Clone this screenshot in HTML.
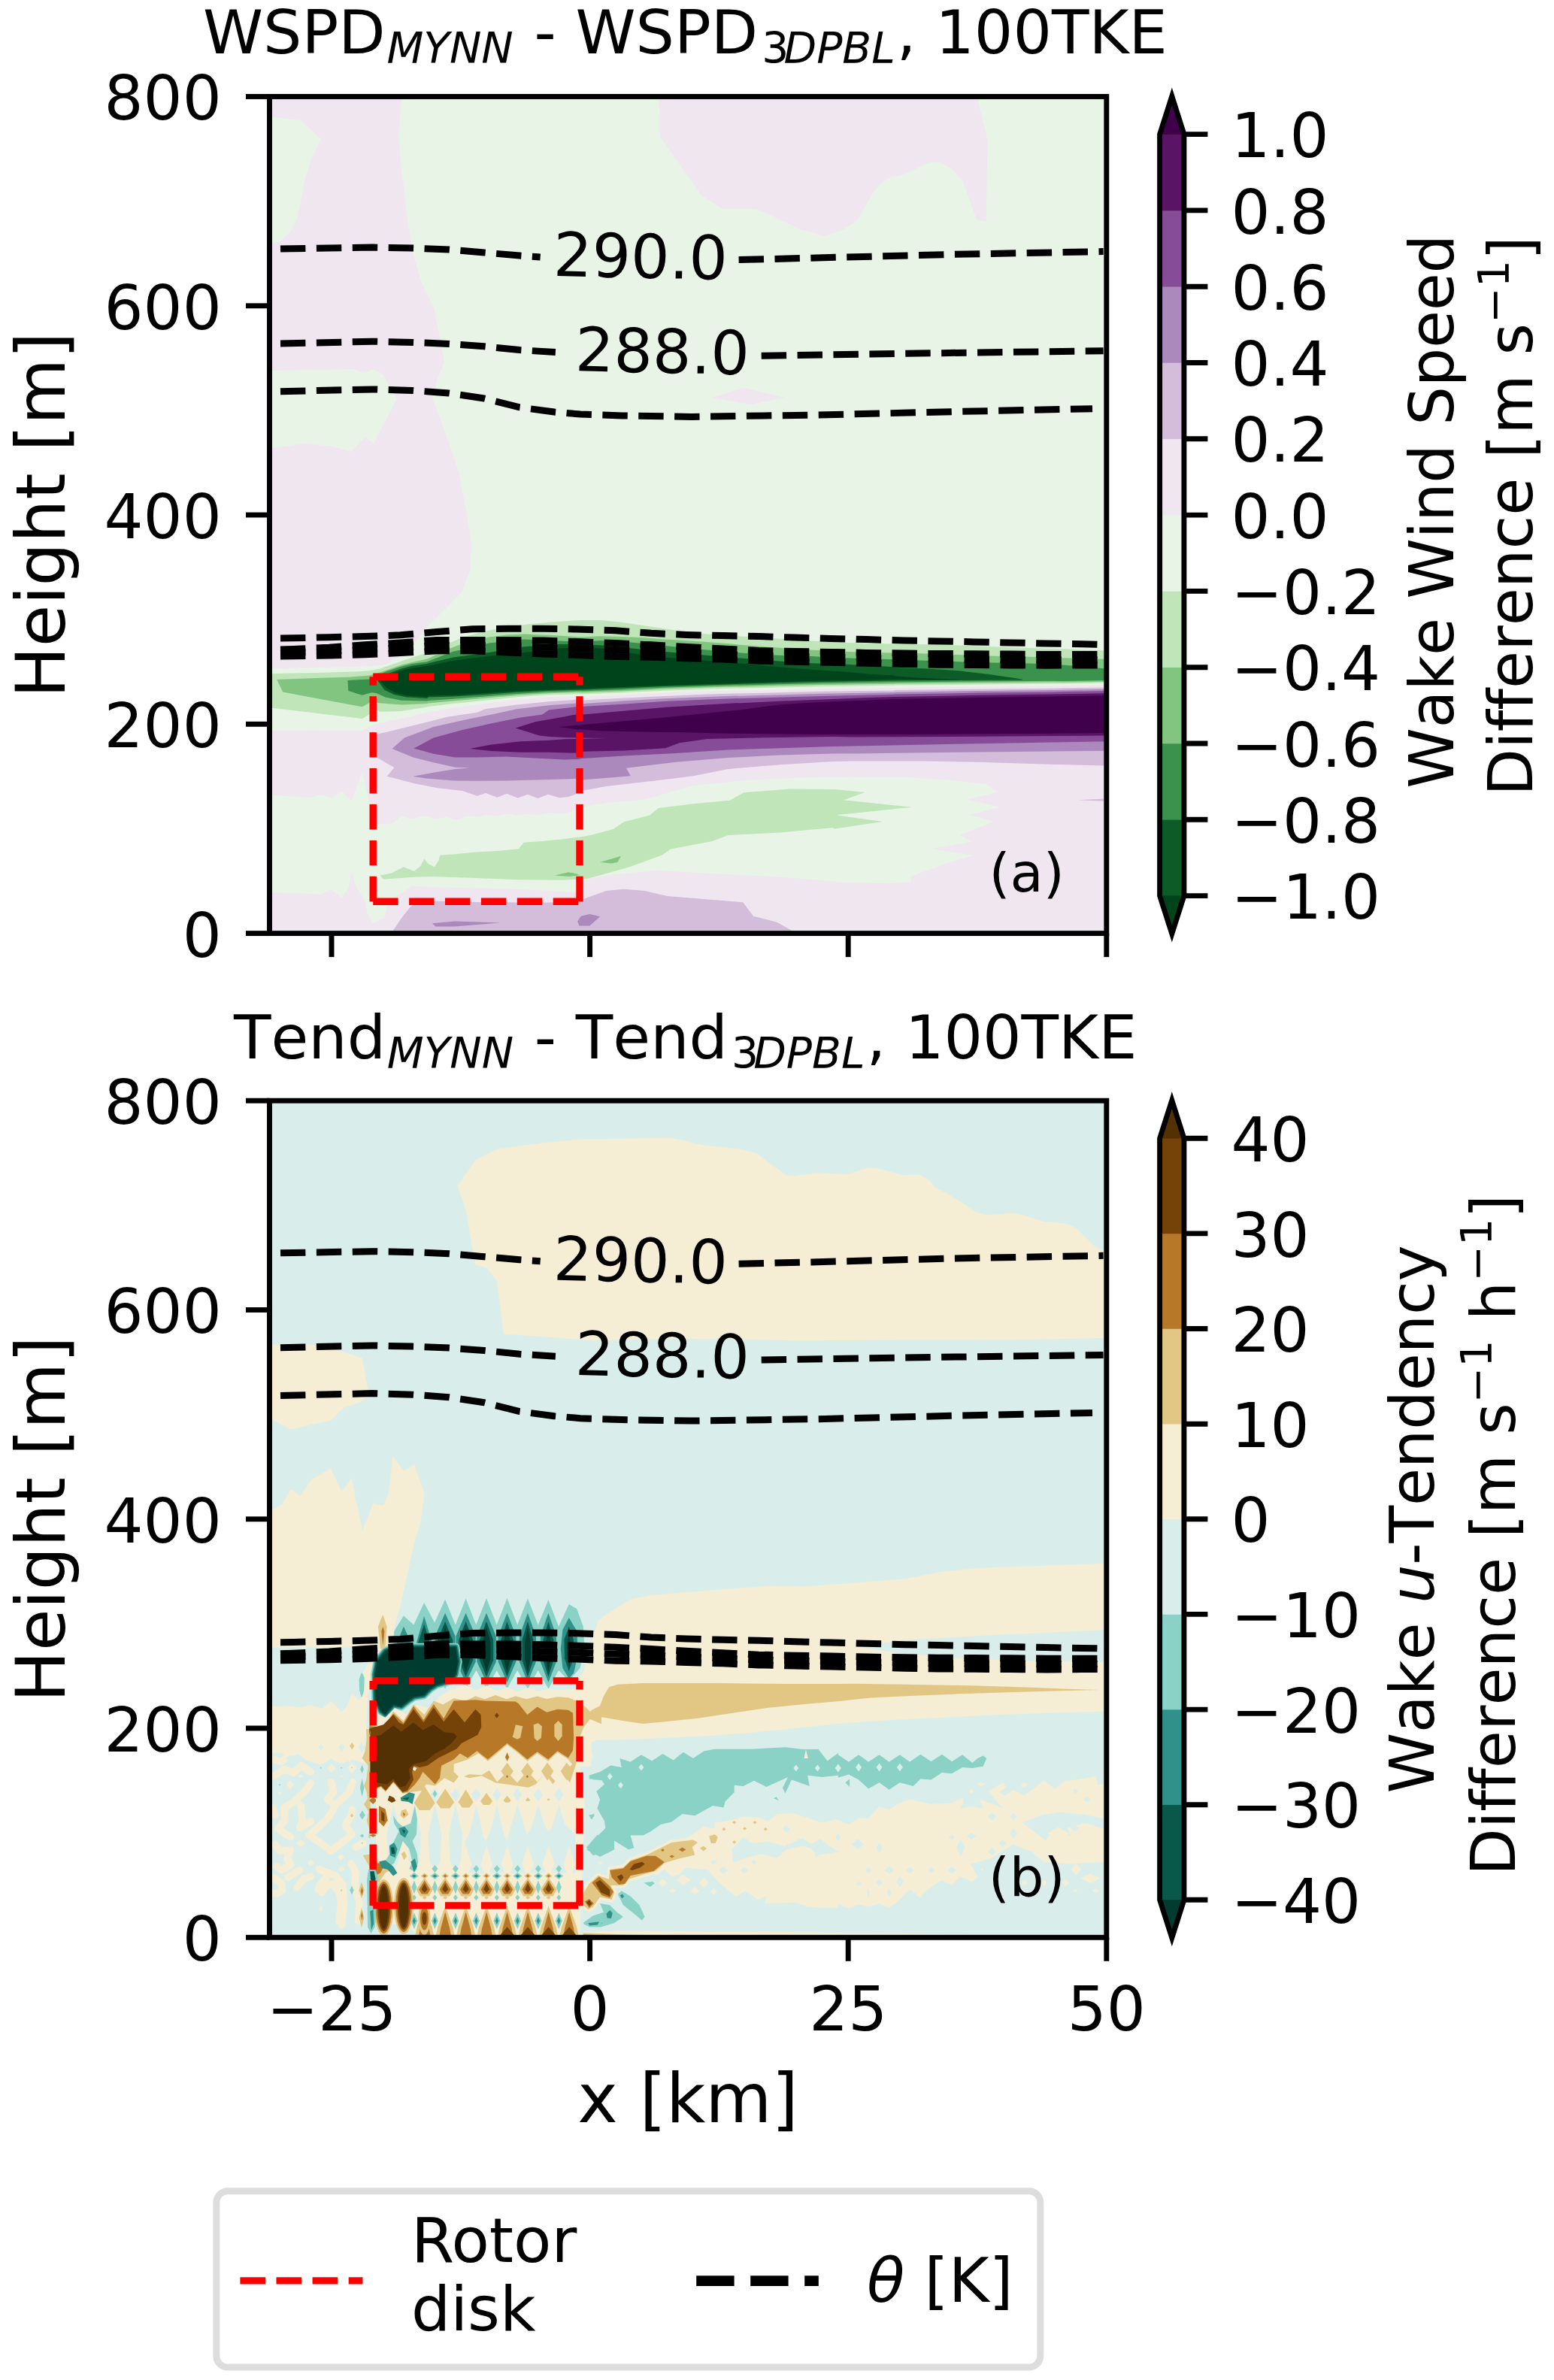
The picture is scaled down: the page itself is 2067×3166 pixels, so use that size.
<!DOCTYPE html>
<html lang="en"><head><meta charset="utf-8"><title>Wake wind speed and tendency difference</title>
<style>html,body{margin:0;padding:0;background:#fff}svg{display:block}text{font-family:"DejaVu Sans","Liberation Sans",sans-serif;fill:#000}.it{font-style:oblique}.nk{font-kerning:none;font-feature-settings:"kern" 0,"liga" 0}</style></head><body>
<svg width="2067" height="3166" viewBox="0 0 2067 3166">
<rect width="2067" height="3166" fill="#fff"/>
<defs><clipPath id="c1"><rect x="358.5" y="128.5" width="1113.3" height="1113.1"/></clipPath><clipPath id="c2"><rect x="358.5" y="1464.2" width="1113.3" height="1113.1"/></clipPath></defs>
<g clip-path="url(#c1)"><rect x="356.5" y="126.5" width="1117.3" height="1117.1" fill="#e8f4e5"/>
<path d="M356.5 126.5L535 126.5L530 179L533 215L541 285L550 340L561 377L577 410L585 450L591 481L581 506L575.6 531L592 575L610 627L621 685L627 722L625 759L614 788L585 817.5L570 832L548.2 859.6L527 876.6L511 884.4L491.6 886.5L356.5 889.4Z" fill="#efe6f0"/>
<path d="M356.5 155L400 160L427 185L414 212L405 241L396 289L387 307L372 322L356.5 324Z" fill="#e8f4e5"/>
<path d="M356.5 493L471 491L484 496.5L497 491L510 498L515 509L528 531L497 590L486 581L467 601L442 594L405 590L368 595.6L356.5 595Z" fill="#e8f4e5"/>
<path d="M876.4 126.5L878 182L920 241L932 259L961 278L1005 278L1031 289L1064 305L1097 314L1123 305L1141 292L1159.5 259L1170.5 245L1185 235.6L1203.5 232L1236.5 216L1251 216L1266 224.5L1280.5 241L1299 292L1311.7 295L1313.5 186L1299 126.5Z" fill="#efe6f0"/>
<path d="M946.7 529L989 516L1044 529L998 538Z" fill="#efe6f0"/>
<path d="M356.5 972.2L420.8 971.8L481.7 972.2L491.6 967.2L500.1 963L505.7 961.6L534 955.9L568 948.1L569.9 947.4L602.5 941.8L644.9 936.1L687.4 931.1L729.9 927.6L775.2 926.2L770 926.9L826.6 924.5L883.3 921.6L939.9 919.5L982.4 918.4L980 918.8L1093.3 916.6L1189.5 915.1L1190 914.9L1303.3 913.4L1402.4 912.4L1413.3 912L1473.8 911.2L1473.8 1243.6L356.5 1243.6Z" fill="#efe6f0"/>
<path d="M356.5 1057L412.3 1061.2L426.4 1057L440.6 1061.2L454.8 1052.7L467.5 1065.5L474.6 1045.7L482 1027L490 1062L497 1096L500.1 1096.6L522.7 1095.2L534 1085.3L548.2 1089.5L565.2 1085.3L579.3 1089.5L593.5 1086.7L607.7 1091L621.8 1085.3L636 1086.7L647.3 1083.9L661.5 1085.3L675.6 1082.5L686.9 1084.7L701.1 1082.5L715.3 1083.9L729.4 1081.1L746.4 1082.5L760.6 1079.6L766.9 1075.1L806.3 1068.1L857.3 1063.5L922.2 1045L991.7 1038L1061.2 1034.6L1107.5 1033.4L1133.8 1033.3L1205.2 1033.8L1252.9 1036.9L1312.4 1042.9L1327.1 1053.6L1286.2 1063.8L1330.2 1073.8L1289.8 1083.8L1321.4 1092.9L1276.7 1110.7L1292.1 1119.5L1239.8 1129L1293.3 1138.1L1262.4 1147.6L1212.4 1165.5L1211.2 1173.8L1181.4 1175L1110 1174.3L1120 1174.2L1084.3 1170.1L1014.8 1165.4L945.3 1162L875.8 1158L817.9 1163.1L783.2 1168.9L766.9 1175.9L769 1187.2L746.4 1185.8L689.8 1183L633.1 1181.6L576.5 1180.2L548.2 1178.7L519.9 1197.1L514.2 1207.1L511.4 1221.2L495.8 1228.3L488.7 1215.5L485.9 1198.6L474.6 1181.6L467.5 1158.9L463.3 1181.6L454.8 1194.3L440.6 1183L426.4 1190.1L401 1188.6L356.5 1187.2Z" fill="#e8f4e5"/>
<path d="M505.7 1164.6L519.9 1161.8L536.9 1153.3L551 1158.9L559.5 1151.8L564.3 1142.5L569.4 1149L577.9 1153.3L583.6 1144.8L585 1137.7L604.8 1136.3L633.1 1133.4L661.5 1132L689.8 1129.2L696.8 1120.7L718.1 1119.3L746.4 1116.4L769 1113.6L769.3 1114L785.5 1111L815.6 1102.9L829.5 1093.6L864.2 1084.4L875.8 1075.1L922.2 1069.3L970.8 1064.7L989.3 1054.2L1049.6 1049.6L1107.5 1050.1L1110 1050L1150.5 1054L1121.9 1064.3L1212.4 1073.8L1133.8 1082.1L1114.8 1083.8L1114.8 1084.8L1174.3 1092.9L1110 1102.4L1107.5 1101L1038 1107.5L968.5 1111L947.6 1119.1L892 1129.5L880.5 1137.6L838.8 1152.7L811 1160.8L780.8 1168.9L766.9 1170.5L769 1169.7L746.4 1170.8L689.8 1170.2L633.1 1168L576.5 1166L548.2 1166.8L510 1169.7Z" fill="#bfe5b9"/>
<path d="M737.9 1164.6L756.3 1160.3L771.9 1164L757.7 1166Z" fill="#81c581"/>
<path d="M798.2 1146.9L826 1138.8L821.4 1146.9L813.3 1148.5Z" fill="#81c581"/>
<path d="M760 1160.8L769.3 1163.1L760 1164.7Z" fill="#81c581"/>
<path d="M522.7 1238.2L534 1221.2L545.4 1207.1L553.9 1200L576.5 1198.6L633.1 1200L718.1 1200.8L769 1200L768.1 1199L783.2 1193.2L806.3 1185.1L829.5 1182.8L857.3 1185.1L887.4 1192.1L945.3 1196.7L988.2 1200.2L1002.1 1218.7L1033.4 1226.8L1054.2 1238.4Z" fill="#d4bcdb"/>
<path d="M575.1 1228.3L604.8 1225.5L665.7 1227.4L604.8 1232.5L579.3 1232.5Z" fill="#ac89bc"/>
<path d="M768.1 1225.7L772.7 1218.7L784.3 1215.9L798.2 1219.2L784.3 1231.5L770.4 1231.5Z" fill="#ac89bc"/>
<path d="M1435 1064.3L1467.9 1062.4L1467.9 1065.7Z" fill="#d4bcdb"/>
<path d="M356.5 896.4L420.8 895L477.4 893.3L491.6 892.2L505.7 889.4L519.9 884.4L534 879.5L548.2 874.5L568 868.8L569.9 868.1L588.3 859.6L602.5 853.3L616.6 847.6L644.9 839.8L673.3 834.2L701.6 830.6L729.9 827.8L758.2 825.7L775.2 825L770 825L798.3 825L826.6 827.8L854.9 832L883.3 836.3L911.6 840.5L939.9 843.4L968.2 845.5L982.4 846.5L980 846.2L1008.3 847.6L1036.6 849.7L1079.1 852.6L1121.6 854.7L1164 856.1L1189.5 856.5L1190 856.5L1246.6 857.5L1303.3 859.6L1359.9 861.8L1402.4 862.9L1413.3 863.2L1473.8 865.6L1473.8 908.5L1413.3 909.5L1402.4 909.6L1303.3 910.6L1190 911.6L1189.5 911.7L1093.3 913.3L980 915.8L982.4 915.6L939.9 916.7L883.3 918.7L826.6 921.5L770 923.6L775.2 923.1L729.9 924.3L687.4 927.3L644.9 931.8L602.5 936.1L569.9 940.1L568 940.6L534 946L505.7 946.7L500.1 944.6L491.6 950.2L481.7 955.9L420.8 948.8L356.5 941Z" fill="#bfe5b9"/>
<path d="M368.1 904L420.8 902.1L463.3 900.7L491.6 898.6L505.7 894.3L519.9 889.4L534 884.4L548.2 880.9L568 876.6L569.9 875.9L588.3 866.7L602.5 861.1L623.7 853.3L650.6 847.6L673.3 844.4L697.3 843.4L729.9 844.8L758.2 846.6L775.2 847.6L770 847.6L798.3 846.2L826.6 846.9L854.9 848.3L883.3 850.4L911.6 851.9L939.9 854L968.2 856.1L982.4 857.5L980 857.5L1008.3 859.6L1036.6 861.8L1079.1 864.6L1121.6 866.7L1164 868.1L1189.5 868.4L1190 868.1L1232.5 869.5L1274.9 871L1317.4 872.4L1359.9 873.5L1402.4 874.4L1413.3 875.2L1473.8 876.9L1473.8 906.6L1413.3 907.8L1402.4 907.6L1303.3 908.5L1190 909.5L1189.5 909.8L1093.3 911L980 913.7L982.4 913.4L939.9 914.6L883.3 916.6L826.6 919.4L770 921.4L775.2 920.8L729.9 922.2L687.4 925L644.9 928.7L602.5 932.5L569.9 935.4L568 936.1L534 937.5L505.7 935.4L494.4 933.3L481.7 940.3L420.8 929L376.2 920.5L368.1 904Z" fill="#81c581"/>
<path d="M462.5 904.9L491.6 903.5L500.1 899.3L512.8 893.6L534 886.5L548.2 883L568 880.2L569.9 879.5L602.5 866.7L650.6 855.4L697.3 850.4L744 852.6L775.2 854L770 854L798.3 851.9L826.6 853.3L854.9 856.1L883.3 858.9L911.6 861.8L939.9 864.6L968.2 866.7L982.4 868.1L980 868.1L1008.3 870.3L1036.6 871.7L1079.1 873.1L1121.6 875.2L1164 876.6L1189.5 877.3L1190 877.3L1232.5 878.8L1274.9 880.2L1317.4 881.6L1359.9 882.3L1402.4 883.4L1413.3 884.4L1455.7 888L1473.8 889.9L1473.8 904.9L1413.3 906.1L1402.4 905.8L1303.3 906.6L1190 907.5L1189.5 907.6L1093.3 908.9L980 911.7L982.4 911.5L939.9 912.7L883.3 914.7L826.6 917.4L770 919.4L775.2 919.1L729.9 920.5L687.4 922.9L644.9 926.5L602.5 929.7L569.9 932.1L568 932.5L534 931.8L512.8 927.6L500.1 921.9L494.4 921.2L481.7 924.8L463.3 919.1L462.5 904.9Z" fill="#3a924c"/>
<path d="M502.2 904.9L512.8 897.2L534 889.4L548.2 885.8L568 883L569.9 882.3L602.5 874.5L650.6 868.1L697.3 860.3L744 857.1L775.2 857.5L770 857.5L798.3 858.2L826.6 861.1L854.9 863.9L883.3 866.7L911.6 869.5L939.9 871.7L968.2 874.5L982.4 875.5L980 875.2L1008.3 877.3L1036.6 879.5L1079.1 882.3L1121.6 883.4L1164 885.8L1189.5 887.2L1190 888L1232.5 889.4L1274.9 892.2L1317.4 897.2L1352.8 902.4L1359.9 903.8L1359.9 904.4L1274.9 904.9L1190 905.4L1189.5 905.6L1093.3 907.1L980 909.9L982.4 909.9L939.9 911.3L883.3 913L826.6 915.6L770 917.7L775.2 917.5L729.9 918.8L687.4 920.8L644.9 924.1L602.5 926.5L569.9 927.6L568 929L541.1 927.6L524.1 924.1L511.4 917.7L502.2 904.9Z" fill="#0d5c28"/>
<path d="M505.7 906.4L519.9 896.4L534 892.2L548.2 888.7L568 885.8L569.9 885.8L602.5 878.8L650.6 873.1L697.3 868.1L744 862.5L775.2 861.1L770 861.1L798.3 862.5L826.6 866.7L854.9 871L883.3 874.5L911.6 876.6L939.9 878.8L968.2 880.9L982.4 881.9L980 882.3L1008.3 884.4L1036.6 887.2L1079.1 890.8L1121.6 893.6L1164 897.2L1189.5 898.6L1190 899.3L1218.3 901.4L1246.6 902.8L1274.9 904L1274.9 904.4L1232.5 904.2L1190 903.8L1189.5 903.8L1149.9 904.7L1093.3 905.6L1036.6 907.1L980 908.5L982.4 908.8L968.2 909.2L939.9 910L911.6 910.9L883.3 911.7L854.9 912.7L826.6 914.1L798.3 915.1L770 916.3L775.2 916.3L729.9 917.4L687.4 919.1L644.9 921.9L602.5 924.8L569.9 925.5L568 926.9L541.1 925.5L527 921.9L515.6 916.3L505.7 906.4Z" fill="#00441b"/>
<path d="M501.2 976.7L518.6 972.8L557.2 963.2L595.8 953.5L634.4 947.7L644.9 943.2L687.4 937.5L729.9 933.3L775.2 930.1L770 931.8L826.6 928.7L883.3 925.9L939.9 923.6L982.4 922.2L980 922.6L1093.3 919.8L1189.5 918.4L1190 918.1L1303.3 916.7L1402.4 915.7L1413.3 915.3L1473.8 914.4L1473.8 1018.6L1395.7 1016.7L1300.5 1013.8L1229 1012.4L1133.8 1012.4L1107.5 1013L1038 1017.2L968.5 1023L922.2 1032.2L875.8 1038L806.3 1046.1L773.9 1051.9L767.6 1055.8L756.1 1060.1L744.5 1061.2L729 1056.8L715.5 1062L702 1056.8L688.5 1061.6L674 1055.8L661.5 1060.7L646 1054.9L634.4 1058.7L615.1 1052L580.4 1048.1L551.4 1042.3L514.7 1032.7L524.4 1021.1L501.2 1007.6Z" fill="#d4bcdb"/>
<path d="M521.5 996L537.9 981.5L576.5 967L615.1 958.3L653.7 950.6L687.4 943.2L729.9 938.2L775.2 935L770 936.4L826.6 932.5L883.3 929.3L939.9 926.9L982.4 925.5L980 925.9L1093.3 922.8L1189.5 921.1L1190 920.8L1303.3 919.1L1402.4 918L1413.3 917.7L1473.8 916.7L1473.8 998.8L1300.5 1000.5L1133.8 1002.4L1107.5 1002.4L1038 1004.4L968.5 1007.9L899 1013.7L833 1021.8L838.8 1032.2L773.9 1037.6L769.6 1035.8L750.3 1036.5L711.7 1037.5L673.1 1038.5L634.4 1038.8L603.6 1038.5L566.9 1035.6L549.5 1032.7L576.5 1027.8L605.5 1023L624.8 1021.5L605.5 1020.7L576.5 1014.3L549.5 1007.6L521.5 996Z" fill="#ac89bc"/>
<path d="M550.5 995.4L576.5 981.5L615.1 970.9L653.7 962.2L692.4 954.5L721.3 950.6L729.9 944.6L775.2 939.2L770 940.3L826.6 936.8L883.3 933L939.9 930.4L982.4 929L980 929.3L1093.3 925.9L1189.5 923.8L1190 923.6L1303.3 921.6L1402.4 920.4L1413.3 920.1L1473.8 919.1L1473.8 986.2L1300.5 989.3L1133.8 992.4L1107.5 993.1L1038 995.2L968.5 997.5L899 1002.1L829.5 1005.6L773.9 1009.1L769.6 1009.9L750.3 1010.5L711.7 1008.5L673.1 1006.6L634.4 1007.6L605.5 1007.6L576.5 1002.7L550.5 995.4Z" fill="#874c97"/>
<path d="M685.6 968.6L711.7 960.3L750.3 953.5L775.2 948.5L770 951L826.6 946L883.3 941L939.9 937.5L982.4 935L980 935.4L1036.6 932.8L1093.3 930.4L1149.9 928.3L1189.5 926.9L1190 926.9L1303.3 924.8L1402.4 923.5L1413.3 923.2L1473.8 922.2L1473.8 978.6L1300.5 979.8L1133.8 980.5L1107.5 980.1L1014.8 981.3L940.7 982.9L903.6 988.2L885.1 995.2L829.5 998.6L773.9 999.8L769.6 1001.8L731 1000.8L692.4 1000.8L653.7 998.9L624.8 996L653.7 990.6L692.4 986.3L731 984.8L750.3 983.2L769.6 982.9L806.8 982.1L769.6 981.5L750.3 980.9L731 980L717.5 978.6L685.6 968.6Z" fill="#591465"/>
<path d="M742.5 967L769.6 964.5L770 964.4L826.6 959.4L883.3 954.5L939.9 948.8L982.4 944.6L980 944.9L1008.3 941L1036.6 937.5L1064.9 935.4L1093.3 934L1149.9 931.8L1189.5 930.1L1190 930.1L1303.3 927.9L1402.4 926.6L1413.3 926.3L1473.8 925.3L1473.8 975L1413.3 975.4L1402.4 975.7L1303.3 976.2L1190 976.9L1189.5 977.1L1149.9 977.1L1093.3 976.9L1036.6 976.4L980 975.7L968.2 975.7L911.6 974.3L854.9 973.6L798.3 972.2L770 970.1L769.6 970.5L742.5 967Z" fill="#40004b"/><path d="M373 331L495 329L549 330L597.5 332L644 336L691 340L718.7 342" fill="none" stroke="#000" stroke-width="9.0" stroke-dasharray="33.4 14.5"/>
<path d="M982.6 345.6L1126.4 342L1269.5 338.3L1467.6 334.6" fill="none" stroke="#000" stroke-width="9.0" stroke-dasharray="33.4 14.5"/>
<path d="M373 457L495 454.2L549 455.4L597.5 457.4L644 460.8L691 465.6L738.9 468.5" fill="none" stroke="#000" stroke-width="9.0" stroke-dasharray="33.4 14.5"/>
<path d="M1012.7 473.3L1203.5 470.3L1467.6 466.7" fill="none" stroke="#000" stroke-width="9.0" stroke-dasharray="33.4 14.5"/>
<path d="M373 520.7L495 517.9L549 519.5L597 523L644 530L691 541.9L737 548L772 551L827 552.9L920 554.4L1086 552L1276.8 547.4L1453 543.7" fill="none" stroke="#000" stroke-width="9.0" stroke-dasharray="33.4 14.5"/>
<path d="M373 849L390 848.8L437.6 847.7L485 846.6L532.6 844.8L581 840.5L628 836.7L676 836.3L723 836.3L767 837L818.5 838.8L866 842.3L913 844.4L961 845.6L1009.4 846.5L1057 848.1L1105 849.4L1152 850.6L1203 852L1248 852.9L1296 853.9L1343 854.9L1391 855.9L1439 856.8L1467 857.3" fill="none" stroke="#000" stroke-width="9.0" stroke-dasharray="33.4 14.5"/>
<path d="M373 864L390 863.5L437.6 861.2L485 857.8L532.6 854.9L581 851.4L628 851.4L676 851.4L723 852.1L767 853.5L818.5 855.6L866 857.8L913 860.6L961 863L1009 865.5L1057 866.5L1105 867.4L1152 868.4L1203 869.1L1248 869.5L1296 869.8L1343 870.1L1391 870.5L1439 870.5L1467 870.5" fill="none" stroke="#000" stroke-width="9.0" stroke-dasharray="33.4 14.5"/>
<path d="M373 868.5L390 868.1L437.6 866.7L485 864.2L532.6 861.8L581 858.6L628 858.6L676 859.6L723 861L767 862.5L818.5 864.5L866 866L913 868.2L961 870L1009 872.4L1057 873.4L1105 874.3L1152 875.3L1203 876.3L1248 876.9L1296 877.2L1343 877.5L1391 877.9L1439 877.7L1467 877.7" fill="none" stroke="#000" stroke-width="9.0" stroke-dasharray="33.4 14.5"/>
<path d="M373 873L390 872.8L437.6 872.1L485 870.7L532.6 868.6L581 865.8L628 865.8L676 867.9L723 870L767 871.4L818.5 873.5L866 874.3L913 875.7L961 877.1L1009 879.2L1057 880.3L1105 881.3L1152 882.3L1203 883.5L1248 884.2L1296 884.6L1343 884.9L1391 885.2L1439 884.9L1467 884.9" fill="none" stroke="#000" stroke-width="9.0" stroke-dasharray="33.4 14.5"/>
<path d="M496.2 1199.2L771 1199.2" fill="none" stroke="#ff0000" stroke-width="9.4" stroke-dasharray="33.4 14.5" stroke-linecap="butt"/>
<path d="M496.2 900.2L771 900.2" fill="none" stroke="#ff0000" stroke-width="9.4" stroke-dasharray="33.4 14.5" stroke-linecap="butt"/>
<path d="M496.2 1199.2L496.2 900.2" fill="none" stroke="#ff0000" stroke-width="9.4" stroke-dasharray="33.4 14.5" stroke-linecap="butt"/>
<path d="M771 1199.2L771 900.2" fill="none" stroke="#ff0000" stroke-width="9.4" stroke-dasharray="33.4 14.5" stroke-linecap="butt"/><text transform="translate(851.3 369.5) rotate(1.2)" font-size="81.0" text-anchor="middle">290.0</text>
<text transform="translate(880.3 495.8) rotate(1.2)" font-size="81.0" text-anchor="middle">288.0</text></g>
<g clip-path="url(#c2)"><rect x="356.5" y="1462.2" width="1117.3" height="1117.1" fill="#d9eeeb"/>
<path d="M920 1519.2L892.9 1513.7L771.8 1515.5L716.8 1521L661.8 1528.4L632.4 1543L608.6 1577.9L619.6 1609.1L632.4 1682.4L647.1 1686.1L661 1704.4L669.8 1774.8L716.8 1777.8L790.2 1783.3L920 1780.3L910 1780.7L1056.7 1783.3L1203.4 1782.5L1350.2 1782.5L1423.5 1780.7L1474.9 1779.6L1474.9 1667.7L1456.5 1658.6L1430.8 1632.9L1419.8 1628.1L1386.8 1624.5L1361.2 1616.4L1346.5 1613.8L1313.5 1616.4L1298.8 1612.7L1262.1 1588.9L1243.8 1579.7L1236.4 1570.5L1223.6 1562.5L1199.8 1563.2L1166.8 1554L1155.8 1553.3L1126.4 1562.1L1086.1 1560.3L1056.7 1564.3L1045.7 1563.2L1027.4 1550.4L1005.4 1533.9L983.4 1528.4L932 1522.9L910 1517.4Z" fill="#f6edd5"/>
<path d="M356.5 1788.8L408.7 1788.1L456.4 1798L482 1807.1L489.4 1849.3L482 1864L456.4 1873.1L439.9 1889.7L419.7 1893.9L386.7 1901.3L356.5 1885.5Z" fill="#f6edd5"/>
<path d="M356.5 2012L375.7 2001L386.7 1980.9L399.5 1990L414.2 1968L439.9 1953.4L454.5 1984.5L467.4 1966.2L482 2035.9L496.7 1999.2L509.6 2002.9L516.9 1986.4L522.4 1936.9L537.1 1957L551 1947.9L564.6 1986.4L559.1 2026.7L551 2052.4L540.7 2100.1L533.4 2133.1L526.1 2158.8L520.6 2184.4L511.4 2202.8L502.2 2217.5L496.7 2232.1L489 2253L487.3 2301.6L483.8 2336.4L478.6 2341.6L471.6 2336.4L464.7 2343.3L454.2 2336.4L443.8 2341.6L433.4 2334.6L424.7 2343.3L416 2336.4L407.3 2341.6L396.9 2332.9L384.7 2336.4L372.6 2331.2L356.5 2332.9Z" fill="#f6edd5"/>
<path d="M356.5 2191.8L504.1 2191.8L494.9 2202.8L482.8 2224.8L482 2225.2L485.5 2237.3L483.8 2253L477.7 2261.7L468.1 2253L461.2 2270.3L454.2 2277.3L440.3 2263.4L428.2 2273L412.5 2267.7L400.4 2271.2L384.7 2269.5L363.9 2270.3L356.5 2270.3Z" fill="#d9eeeb"/>
<path d="M479.4 2232.1L482 2225.2L484.7 2232.1L484.1 2249.5L481.2 2258.2L478.6 2249.5Z" fill="#8ad1c6"/>
<path d="M363.4 2363.4L378 2353.6L390.2 2358.5L401.2 2348.7L413.4 2357.3" fill="none" stroke="#f6edd5" stroke-width="9.5" stroke-linejoin="round" stroke-linecap="round"/>
<path d="M362.2 2340.2L374.4 2343.9L381.7 2336.6" fill="none" stroke="#f6edd5" stroke-width="9.5" stroke-linejoin="round" stroke-linecap="round"/>
<path d="M408.5 2336.6L426.8 2342.7L440.2 2334.1L454.8 2341.4L468.2 2335.3L482.8 2340.2" fill="none" stroke="#f6edd5" stroke-width="9.5" stroke-linejoin="round" stroke-linecap="round"/>
<path d="M413.4 2371.9L404.8 2384.1L390.2 2397.5L378 2404.8L379.2 2421.9L369.5 2432.8L386.6 2443.8" fill="none" stroke="#f6edd5" stroke-width="9.5" stroke-linejoin="round" stroke-linecap="round"/>
<path d="M440.2 2370.7L443.8 2382.9L435.3 2393.8L446.3 2401.1L437.7 2417L425.6 2429.2L410.9 2441.4L425.6 2451.1L440.2 2462.1L454.8 2451.1L468.2 2440.1L459.7 2428L467 2415.8L468.2 2407.2" fill="none" stroke="#f6edd5" stroke-width="9.5" stroke-linejoin="round" stroke-linecap="round"/>
<path d="M469.4 2370.7L463.3 2385.3L451.1 2396.3" fill="none" stroke="#f6edd5" stroke-width="9.5" stroke-linejoin="round" stroke-linecap="round"/>
<path d="M400 2401.1L402.4 2421.9L398.7 2431.6L413.4 2423.1" fill="none" stroke="#f6edd5" stroke-width="9.5" stroke-linejoin="round" stroke-linecap="round"/>
<path d="M365.8 2453.5L371.9 2462.1L386.6 2460.9L381.7 2470.6L386.6 2480.4L374.4 2487.7L368.3 2482.8" fill="none" stroke="#f6edd5" stroke-width="9.5" stroke-linejoin="round" stroke-linecap="round"/>
<path d="M382.9 2497.4L398.7 2487.7" fill="none" stroke="#f6edd5" stroke-width="9.5" stroke-linejoin="round" stroke-linecap="round"/>
<path d="M395.1 2510.8L403.6 2499.8L413.4 2496.2" fill="none" stroke="#f6edd5" stroke-width="9.5" stroke-linejoin="round" stroke-linecap="round"/>
<path d="M424.3 2486.4L437.7 2492.5L425.6 2507.2L423.1 2513.3" fill="none" stroke="#f6edd5" stroke-width="9.5" stroke-linejoin="round" stroke-linecap="round"/>
<path d="M434.1 2490.1L446.3 2495L456 2507.2L457.2 2531.5L454.8 2560.8" fill="none" stroke="#f6edd5" stroke-width="9.5" stroke-linejoin="round" stroke-linecap="round"/>
<path d="M428 2518.1L435.3 2507.2L442.6 2505.9L451.1 2516.9L453.6 2531.5L451.1 2555.9" fill="none" stroke="#f6edd5" stroke-width="9.5" stroke-linejoin="round" stroke-linecap="round"/>
<path d="M467 2479.1L473.1 2490.1L471.9 2507.2L478 2531.5L476.7 2555.9" fill="none" stroke="#f6edd5" stroke-width="9.5" stroke-linejoin="round" stroke-linecap="round"/>
<path d="M362.2 2497.4L374.4 2504.7L375.6 2514.5L368.3 2519.3L362.2 2518.1" fill="none" stroke="#f6edd5" stroke-width="9.5" stroke-linejoin="round" stroke-linecap="round"/>
<path d="M362.2 2404.8L365.8 2414.5" fill="none" stroke="#f6edd5" stroke-width="9.5" stroke-linejoin="round" stroke-linecap="round"/>
<path d="M473.1 2457.2L482.8 2452.3" fill="none" stroke="#f6edd5" stroke-width="9.5" stroke-linejoin="round" stroke-linecap="round"/>
<path d="M487.1 2300L492.6 2300L492.6 2446.2L490.1 2443.8L491.4 2434L487.7 2421.9L490.1 2409.7L484 2399.9L488.9 2392.6L486.5 2373.1L488.3 2358.5L490.1 2348.7L481.6 2339L485.3 2330.5L487.7 2314.6Z" fill="#e1c684"/>
<path d="M495.6 2344.5L501.1 2351.8L495.6 2359.1L490.1 2351.8Z" fill="#b77928"/>
<path d="M496.2 2390.2L501.3 2395L496.2 2399.9L491.1 2395Z" fill="#b77928"/>
<path d="M496.2 2439.4L501.1 2441.6L496.2 2443.8L491.4 2441.6Z" fill="#b77928"/>
<path d="M440.8 2346.3L446.3 2352.4L440.8 2358.5L435.3 2352.4Z" fill="#f6edd5"/>
<path d="M468.2 2344.5L474.3 2351.8L468.2 2359.1L462.1 2351.8Z" fill="#f6edd5"/>
<path d="M385.9 2367.6L390.8 2374.3L385.9 2381L381.1 2374.3Z" fill="#f6edd5"/>
<path d="M400 2446.8L406.1 2452.3L400 2457.8L393.9 2452.3Z" fill="#f6edd5"/>
<path d="M413.4 2473.6L418.2 2477.9L413.4 2482.2L408.5 2477.9Z" fill="#f6edd5"/>
<path d="M453.6 2466.3L457.8 2470.6L453.6 2474.9L449.3 2470.6Z" fill="#f6edd5"/>
<path d="M454.2 2482.2L458.5 2486.4L454.2 2490.7L449.9 2486.4Z" fill="#f6edd5"/>
<path d="M426.8 2534.6L429.5 2538.8L426.8 2543.1L424.1 2538.8Z" fill="#f6edd5"/>
<path d="M400 2360.6L403.4 2362.8L400 2365L396.5 2362.8Z" fill="#f6edd5"/>
<path d="M372.5 2382.6L374.7 2385.3L372.5 2388L370.4 2385.3Z" fill="#f6edd5"/>
<path d="M454.2 2361.3L457.2 2362.8L454.2 2364.2L451.1 2362.8Z" fill="#f6edd5"/>
<path d="M426.8 2320.1L430.4 2324.4L426.8 2328.6L423.1 2324.4Z" fill="#d9eeeb"/>
<path d="M454.2 2318.9L458.5 2324.4L454.2 2329.9L449.9 2324.4Z" fill="#d9eeeb"/>
<path d="M481 2317.1L485.3 2324.4L481 2331.7L476.7 2324.4Z" fill="#d9eeeb"/>
<path d="M385.3 2334.7L390.8 2339L385.3 2343.3L379.9 2339Z" fill="#d9eeeb"/>
<path d="M413.4 2387.7L417.6 2392.6L413.4 2397.5L409.1 2392.6Z" fill="#d9eeeb"/>
<path d="M426.8 2438.9L430.4 2442L426.8 2445L423.1 2442Z" fill="#d9eeeb"/>
<path d="M454.2 2439.2L458.5 2442.6L454.2 2446L449.9 2442.6Z" fill="#d9eeeb"/>
<path d="M440.8 2449.3L444.4 2451.7L440.8 2454.2L437.1 2451.7Z" fill="#d9eeeb"/>
<path d="M481.6 2348.1L484 2353.6L481.6 2359.1L479.2 2353.6Z" fill="#8ad1c6"/>
<path d="M481.6 2365.8L484.3 2378L481.6 2390.2L478.9 2378Z" fill="#8ad1c6"/>
<path d="M481.9 2408.5L485.8 2414.5L481.9 2420.6L478 2414.5Z" fill="#8ad1c6"/>
<path d="M481.6 2439.5L484.3 2442L481.6 2444.4L478.9 2442Z" fill="#8ad1c6"/>
<path d="M468 2508.4L470.6 2514.5L468 2520.6L465.3 2514.5Z" fill="#8ad1c6"/>
<path d="M371.9 2372.9L373.2 2374.3L371.9 2375.8L370.7 2374.3Z" fill="#8ad1c6"/>
<path d="M426.8 2350.6L427.7 2351.8L426.8 2353L425.8 2351.8Z" fill="#8ad1c6"/>
<path d="M454.2 2350.6L455.2 2351.8L454.2 2353L453.2 2351.8Z" fill="#8ad1c6"/>
<path d="M468.2 2317.7L471.2 2322.5L468.2 2327.4L465.2 2322.5Z" fill="#e1c684"/>
<path d="M468 2412.5L470.2 2415.2L468 2417.8L465.8 2415.2Z" fill="#e1c684"/>
<path d="M481 2503.5L484.7 2514.5L481 2525.4L477.3 2514.5Z" fill="#e1c684"/>
<path d="M481 2537.6L484.4 2551L481 2564.4L477.6 2551Z" fill="#e1c684"/>
<path d="M481.6 2450.5L482.8 2451.7L481.6 2452.9L480.4 2451.7Z" fill="#e1c684"/>
<path d="M454.2 2513L455.4 2514.5L454.2 2515.9L453 2514.5Z" fill="#e1c684"/>
<path d="M468 2350L468.9 2351.2L468 2352.4L467 2351.2Z" fill="#e1c684"/>
<path d="M481.4 2510.2L483.1 2515.7L481.4 2521.2L479.7 2515.7Z" fill="#b77928"/>
<path d="M481.4 2542.5L482.6 2548.6L481.4 2554.7L480.1 2548.6Z" fill="#b77928"/>
<path d="M776.7 2222.9L780.2 2208.6L786.2 2184.8L795.7 2156.2L807.6 2146.7L821.9 2138.3L838.6 2127.6L867.1 2121.7L926.7 2116.9L974.3 2113.3L1021.9 2109.8L1069.5 2110.5L1117.1 2107.1L1133.8 2106.2L1157.6 2103.8L1205.2 2100.2L1229 2095.5L1252.9 2090.7L1288.6 2087.1L1324.3 2084.8L1371.9 2083.6L1419.5 2081.2L1471.9 2080L1471.9 2276.4L1395.7 2278.8L1324.3 2281.2L1252.9 2284.8L1181.4 2288.3L1133.8 2291.4L1117.1 2292.4L1093.3 2295.5L1045.7 2300.2L998.1 2305L950.5 2308.6L902.9 2311L855.2 2313.3L819.5 2314.5L795.7 2314.5L785 2318.1L788.6 2337.1L781.4 2346.7L769.5 2350L769.5 2232.4Z" fill="#f6edd5"/>
<path d="M1471.9 2168.1L1395.7 2171.7L1324.3 2174.8L1276.7 2177.6L1205.2 2181.2L1138.6 2190.7L1205.2 2200.2L1276.7 2205.7L1348.1 2209L1471.9 2211Z" fill="#d9eeeb"/>
<path d="M774.3 2270.5L783.8 2276.4L798.1 2269.3L802.9 2256.2L810 2244.3L821.9 2240.7L855.2 2239L950.5 2239L1045.7 2240L1117.1 2240L1133.8 2239.8L1205.2 2240.7L1300.5 2242.4L1371.9 2244.8L1419.5 2246.7L1462.4 2248.1L1419.5 2249L1348.1 2251L1276.7 2253.3L1205.2 2256.2L1157.6 2258.6L1133.8 2261L1117.1 2262.9L1069.5 2266.9L1021.9 2271.7L974.3 2278.8L926.7 2286L879 2290.7L855.2 2293.1L831.4 2289.5L800.5 2284.3L783.8 2287.1L774.3 2294.3Z" fill="#e1c684"/>
<path d="M783.8 2361.7L798.1 2356.9L812.4 2348.6L826.7 2351L824.3 2339L838.6 2343.8L852.9 2334.3L867.1 2342.6L881.4 2333.1L895.7 2341.4L908.8 2330.7L921.9 2339L936.2 2329.5L950.5 2326.7L998.1 2326.7L1045.7 2324.3L1067.1 2327.1L1088.6 2327.1L1100.5 2342.6L1114.8 2331.9L1114.8 2334.3L1129 2343.8L1142.1 2334.3L1155.2 2343.8L1169.5 2334.3L1182.6 2343.8L1196.9 2334.3L1210 2343.8L1224.3 2333.8L1238.6 2343.3L1252.9 2333.8L1266 2343.3L1280.2 2334.3L1293.3 2345L1300.5 2339L1307.6 2335.5L1312.4 2339L1307.6 2349.8L1293.3 2352.1L1280.2 2351L1266 2359.3L1252.9 2358.1L1238.6 2367.6L1224.3 2366.4L1214.8 2376L1196.9 2371.2L1182.6 2380.7L1169.5 2371.2L1155.2 2379.5L1142.1 2367.6L1129 2360.5L1114.8 2364.8L1114.8 2361.7L1093.3 2364L1074.3 2361.7L1076.7 2376L1052.9 2367.6L1044.5 2385.5L1041 2378.3L1048.1 2364L1019.5 2377.1L1002.9 2368.8L988.6 2376L976.7 2374.8L976.7 2384.3L964.8 2396.2L962.4 2404.5L948.1 2402.1L924.3 2415.2L907.6 2412.9L893.3 2423.6L879 2427.1L864.8 2436.7L855.2 2441.4L838.6 2441.4L843.3 2458.1L836.2 2460.5L817.1 2448.6L817.1 2460.5L798.1 2470L780.2 2460.5L792.1 2452.1L793.3 2443.8L805.2 2431.9L804 2422.4L794.5 2405.7L798.1 2393.8L793.3 2383.1L804 2373.6L799.3 2366.4L783.8 2366.4Z" fill="#8ad1c6"/>
<path d="M811.2 2358.8L814.7 2363.3L811.2 2367.8L807.7 2363.3Z" fill="#d9eeeb"/>
<path d="M825.5 2370.3L829 2374.8L825.5 2379.3L822 2374.8Z" fill="#d9eeeb"/>
<path d="M852.9 2346.5L856.4 2351L852.9 2355.5L849.4 2351Z" fill="#d9eeeb"/>
<path d="M1058.8 2347.6L1062.3 2352.1L1058.8 2356.6L1055.3 2352.1Z" fill="#d9eeeb"/>
<path d="M1087.4 2347.6L1090.9 2352.1L1087.4 2356.6L1083.9 2352.1Z" fill="#d9eeeb"/>
<path d="M1114.8 2347.6L1118.3 2352.1L1114.8 2356.6L1111.3 2352.1Z" fill="#d9eeeb"/>
<path d="M1114.8 2346.6L1118.8 2352.1L1114.8 2357.6L1110.8 2352.1Z" fill="#d9eeeb"/>
<path d="M1142.1 2345.5L1146.1 2351L1142.1 2356.5L1138.1 2351Z" fill="#d9eeeb"/>
<path d="M1169.5 2345.5L1173.5 2351L1169.5 2356.5L1165.5 2351Z" fill="#d9eeeb"/>
<path d="M1196.9 2345.5L1200.9 2351L1196.9 2356.5L1192.9 2351Z" fill="#d9eeeb"/>
<path d="M1071.9 2327.1L1074.8 2339L1069.5 2339Z" fill="#f6edd5"/>
<path d="M893.3 2453.3L907.6 2449.8L936.2 2429.5L950.5 2433.1L950.5 2424.8L967.1 2422.4L988.6 2416.4L1007.6 2417.6L1021.9 2422.4L1033.8 2412.9L1052.9 2411.7L1069.5 2416.4L1093.3 2424.8L1112.4 2420L1114.8 2421.2L1129 2427.1L1142.1 2418.8L1155.2 2418.8L1169.5 2403.3L1182.6 2406.9L1196.9 2398.6L1210 2393.8L1238.6 2399.8L1266 2398.6L1280.2 2391.4L1281.4 2398.6L1276.7 2405.7L1291 2403.3L1307.6 2405.7L1302.9 2393.8L1317.1 2398.6L1333.8 2405.7L1314.8 2383.1L1333.8 2371.2L1338.6 2377.1L1329 2384.3L1336.2 2389L1348.1 2380.7L1362.4 2389L1388.6 2368.8L1402.9 2379.5L1417.1 2368.8L1431.4 2367.6L1457.6 2362.9L1460 2374.8L1471.9 2371.2L1471.9 2477.1L1419.5 2479.5L1388.6 2477.1L1371.9 2462.9L1348.1 2453.3L1317.1 2472.4L1291 2479.5L1300.5 2496.2L1293.3 2503.3L1276.7 2496.2L1266 2508.1L1252.9 2501L1238.6 2510.5L1229 2517.6L1224.3 2524.8L1210 2512.9L1196.9 2527.1L1182.6 2537.9L1169.5 2531.9L1155.2 2536.7L1142.1 2533.1L1129 2539L1114.8 2532.4L1114.8 2537.9L1100.5 2537.9L1074.3 2536.7L1060 2530.7L1017.1 2531.9L1019.5 2522.4L1007.6 2527.1L991 2515.2L979 2523.6L969.5 2515.2L955.2 2503.3L941 2486.7L931.4 2486.7L912.4 2484.3L902.9 2493.8L893.3 2496.2L883.8 2486.7L871.9 2495L862.4 2486.7L874.3 2474.8L883.8 2467.6Z" fill="#f6edd5"/>
<path d="M973.1 2460.5L988.6 2443.8L1000.5 2452.1L1021.9 2449.8L1043.3 2455.7L1067.1 2445L1079 2453.3L1091 2446.2L1110 2460.5L1117.1 2462.9L1088.6 2467.6L1076.7 2458.1L1067.1 2455.7L1045.7 2460.5L1033.8 2471.2L1012.4 2466.4L988.6 2472.4L975.5 2478.3Z" fill="#d9eeeb"/>
<path d="M1360 2424.8L1383.8 2415.2L1407.6 2410.5L1443.3 2414L1471.9 2420L1471.9 2434.3L1443.3 2424.8L1419.5 2431.9L1424.3 2441.4L1400.5 2434.3L1391 2448.6L1369.5 2431.9Z" fill="#d9eeeb"/>
<path d="M962.4 2482.6L969 2487.9L962.4 2493.1L955.7 2487.9Z" fill="#d9eeeb"/>
<path d="M989.8 2483.1L995 2487.9L989.8 2492.6L984.5 2487.9Z" fill="#d9eeeb"/>
<path d="M949.3 2473.8L954 2477.1L949.3 2480.5L944.5 2477.1Z" fill="#d9eeeb"/>
<path d="M1002.9 2473.8L1006.7 2477.1L1002.9 2480.5L999 2477.1Z" fill="#d9eeeb"/>
<path d="M1045.7 2428.3L1051 2433.1L1045.7 2437.9L1040.5 2433.1Z" fill="#d9eeeb"/>
<path d="M1086.2 2463.3L1089 2467.6L1086.2 2471.9L1083.3 2467.6Z" fill="#d9eeeb"/>
<path d="M1114.8 2438.1L1118.1 2443.8L1114.8 2449.5L1111.4 2443.8Z" fill="#d9eeeb"/>
<path d="M1141 2446.2L1149.3 2453.3L1141 2460.5L1132.6 2453.3Z" fill="#d9eeeb"/>
<path d="M1169.5 2451.4L1173.8 2458.1L1169.5 2464.8L1165.2 2458.1Z" fill="#d9eeeb"/>
<path d="M1155.2 2484L1159.5 2487.9L1155.2 2491.7L1151 2487.9Z" fill="#d9eeeb"/>
<path d="M1182.6 2482.6L1188.8 2487.9L1182.6 2493.1L1176.4 2487.9Z" fill="#d9eeeb"/>
<path d="M1210 2483.6L1215.7 2487.9L1210 2492.1L1204.3 2487.9Z" fill="#d9eeeb"/>
<path d="M1238.6 2484L1242.9 2487.9L1238.6 2491.7L1234.3 2487.9Z" fill="#d9eeeb"/>
<path d="M1266 2483.1L1272.1 2487.9L1266 2492.6L1259.8 2487.9Z" fill="#d9eeeb"/>
<path d="M1142.1 2502.4L1146 2505.7L1142.1 2509L1138.3 2505.7Z" fill="#d9eeeb"/>
<path d="M1169.5 2499.8L1174.3 2504.5L1169.5 2509.3L1164.8 2504.5Z" fill="#d9eeeb"/>
<path d="M1196.9 2496.2L1202.1 2503.3L1196.9 2510.5L1191.7 2503.3Z" fill="#d9eeeb"/>
<path d="M1266 2440L1270.2 2443.8L1266 2447.6L1261.7 2443.8Z" fill="#d9eeeb"/>
<path d="M1292.1 2437.9L1298.3 2442.6L1292.1 2447.4L1286 2442.6Z" fill="#d9eeeb"/>
<path d="M1277.9 2446.2L1283.6 2458.1L1277.9 2470L1272.1 2458.1Z" fill="#d9eeeb"/>
<path d="M1319.5 2411.2L1325.2 2416.4L1319.5 2421.7L1313.8 2416.4Z" fill="#d9eeeb"/>
<path d="M1348.1 2411.7L1353.3 2416.4L1348.1 2421.2L1342.9 2416.4Z" fill="#d9eeeb"/>
<path d="M1319.5 2457.1L1324.8 2462.9L1319.5 2468.6L1314.3 2462.9Z" fill="#d9eeeb"/>
<path d="M1333.8 2447.4L1339 2452.1L1333.8 2456.9L1328.6 2452.1Z" fill="#d9eeeb"/>
<path d="M1348.1 2431.9L1353.3 2439L1348.1 2446.2L1342.9 2439Z" fill="#d9eeeb"/>
<path d="M1391 2419L1395.2 2424.8L1391 2430.5L1386.7 2424.8Z" fill="#d9eeeb"/>
<path d="M1429 2426.7L1434.3 2431.9L1429 2437.1L1423.8 2431.9Z" fill="#d9eeeb"/>
<path d="M1445.7 2390L1450.5 2393.8L1445.7 2397.6L1441 2393.8Z" fill="#d9eeeb"/>
<path d="M1430.2 2378.6L1433.6 2382.4L1430.2 2386.2L1426.9 2382.4Z" fill="#d9eeeb"/>
<path d="M1155.2 2510.5L1157.1 2517.6L1155.2 2524.8L1153.3 2517.6Z" fill="#d9eeeb"/>
<path d="M1182.6 2511.4L1185.5 2517.6L1182.6 2523.8L1179.8 2517.6Z" fill="#d9eeeb"/>
<path d="M1431.4 2479L1438.1 2486.7L1431.4 2494.3L1424.8 2486.7Z" fill="#f6edd5"/>
<path d="M1417.1 2499.8L1421.9 2504.5L1417.1 2509.3L1412.4 2504.5Z" fill="#f6edd5"/>
<path d="M1388.6 2500.2L1392.9 2504.5L1388.6 2508.8L1384.3 2504.5Z" fill="#f6edd5"/>
<path d="M1362.4 2500.7L1366.7 2504.5L1362.4 2508.3L1358.1 2504.5Z" fill="#f6edd5"/>
<path d="M1450.5 2491.9L1463.6 2498.6L1450.5 2505.2L1437.4 2498.6Z" fill="#f6edd5"/>
<path d="M1457.6 2511.9L1462.4 2515.2L1457.6 2518.6L1452.9 2515.2Z" fill="#f6edd5"/>
<path d="M1430.2 2512.9L1433.6 2515.2L1430.2 2517.6L1426.9 2515.2Z" fill="#f6edd5"/>
<path d="M1450.5 2445.7L1467.1 2453.3L1450.5 2461L1433.8 2453.3Z" fill="#f6edd5"/>
<path d="M1407.6 2430.5L1421.9 2439L1407.6 2447.6L1393.3 2439Z" fill="#f6edd5"/>
<path d="M1305.2 2370.7L1311 2373.6L1305.2 2376.4L1299.5 2373.6Z" fill="#f6edd5"/>
<path d="M1292.1 2379.8L1295.5 2383.1L1292.1 2386.4L1288.8 2383.1Z" fill="#f6edd5"/>
<path d="M1362.4 2371L1366.7 2374.8L1362.4 2378.6L1358.1 2374.8Z" fill="#f6edd5"/>
<path d="M1306.4 2484.8L1308.3 2486.7L1306.4 2488.6L1304.5 2486.7Z" fill="#f6edd5"/>
<path d="M881.4 2499.3L887.6 2504.5L881.4 2509.8L875.2 2504.5Z" fill="#f6edd5"/>
<path d="M894.5 2511.9L899.3 2515.2L894.5 2518.6L889.8 2515.2Z" fill="#f6edd5"/>
<path d="M908.8 2493.8L918.3 2501L908.8 2508.1L899.3 2501Z" fill="#f6edd5"/>
<path d="M924.3 2510.5L930.5 2515.2L924.3 2520L918.1 2515.2Z" fill="#f6edd5"/>
<path d="M936.2 2497.4L942.4 2504.5L936.2 2511.7L930 2504.5Z" fill="#f6edd5"/>
<path d="M949.3 2512.1L953.6 2516.4L949.3 2520.7L945 2516.4Z" fill="#f6edd5"/>
<path d="M912.4 2457.6L917.1 2460.5L912.4 2463.3L907.6 2460.5Z" fill="#f6edd5"/>
<path d="M798.1 2476L801.9 2478.3L798.1 2480.7L794.3 2478.3Z" fill="#f6edd5"/>
<path d="M774.3 2521.2L783.8 2505.7L795.7 2495L810 2499.8L811.2 2486.7L829 2484.3L838.6 2474.8L860 2467.6L874.3 2460.5L893.3 2451L921.9 2447.4L927.9 2451L920.7 2456.9L924.3 2467.6L902.9 2472.4L883.8 2478.3L871.9 2489L855.2 2493.8L836.2 2499.8L829 2508.1L812.4 2508.1L817.1 2517.6L813.6 2527.1L798.1 2523.6L788.6 2536.7L782.6 2540.2L774.3 2533.1Z" fill="#f6edd5" stroke="#f6edd5" stroke-width="7" stroke-linejoin="round"/>
<path d="M774.3 2521.2L783.8 2505.7L795.7 2495L810 2499.8L811.2 2486.7L829 2484.3L838.6 2474.8L860 2467.6L874.3 2460.5L893.3 2451L921.9 2447.4L927.9 2451L920.7 2456.9L924.3 2467.6L902.9 2472.4L883.8 2478.3L871.9 2489L855.2 2493.8L836.2 2499.8L829 2508.1L812.4 2508.1L817.1 2517.6L813.6 2527.1L798.1 2523.6L788.6 2536.7L782.6 2540.2L774.3 2533.1Z" fill="#e1c684"/>
<path d="M811.2 2487.9L829 2485.5L838.6 2476L860 2468.8L871.9 2468.8L883.8 2477.1L869.5 2489L838.6 2495L831.4 2505.7L823.1 2506.9L813.6 2497.4Z" fill="#b77928"/>
<path d="M787.4 2504.5L796.9 2496.2L810 2508.1L816 2516.4L811.2 2524.8L800.5 2521.2Z" fill="#b77928"/>
<path d="M777.9 2529.5L783.8 2526L789.8 2531.9L783.8 2537.9Z" fill="#b77928"/>
<path d="M902.9 2460.5L907.6 2457.6L912.4 2460.5L907.6 2463.3Z" fill="#b77928"/>
<path d="M879 2461L881.4 2459.3L883.8 2461L881.4 2463.3Z" fill="#b77928"/>
<path d="M890.5 2469.5L893.8 2467.6L896.9 2469.5L893.8 2471.4Z" fill="#b77928"/>
<path d="M837.4 2486.7L843.3 2479.5L854 2476.7L857.6 2479.5L851.7 2484.3L841 2487.9Z" fill="#754308"/>
<path d="M820.7 2496.2L826.7 2493.3L829.5 2497.4L825.5 2502.9Z" fill="#754308"/>
<path d="M792.1 2504.5L798.1 2501L811.2 2514L811.2 2522.4L799.3 2517.6Z" fill="#754308"/>
<path d="M780.2 2530.7L783.8 2527.6L787.4 2532.4L783.8 2535.5Z" fill="#754308"/>
<path d="M943.3 2442.6L950.5 2440.2L954.8 2443.8L951.7 2452.1L945.7 2452.1Z" fill="#e1c684"/>
<path d="M931 2458.6L935.7 2455.7L940 2459L935.7 2462.4Z" fill="#e1c684"/>
<path d="M976.7 2422.1L979.3 2424.3L976.7 2426.5L974.1 2424.3Z" fill="#e1c684"/>
<path d="M990.5 2430.2L993.1 2432.4L990.5 2434.6L987.9 2432.4Z" fill="#e1c684"/>
<path d="M1004 2422.1L1006.6 2424.3L1004 2426.5L1001.4 2424.3Z" fill="#e1c684"/>
<path d="M1018.3 2431.1L1020.9 2433.3L1018.3 2435.5L1015.7 2433.3Z" fill="#e1c684"/>
<path d="M976.7 2448.3L979.3 2450.5L976.7 2452.7L974.1 2450.5Z" fill="#e1c684"/>
<path d="M962.9 2431.1L965.5 2433.3L962.9 2435.5L960.3 2433.3Z" fill="#e1c684"/>
<path d="M775.5 2558.1L788.6 2548.6L802.9 2543.8L798.1 2531.9L811.2 2534.3L820.7 2543.8L829 2549.8L817.1 2558.1L800.5 2562.9L783.8 2562.9Z" fill="#8ad1c6"/>
<path d="M782.6 2556.9L798.1 2555.2L801 2558.8L786.2 2560.5Z" fill="#2f9189"/>
<path d="M806.4 2545.7L811.2 2541L814.8 2545L812.9 2552.1L807.6 2551.4Z" fill="#2f9189"/>
<path d="M821.9 2520L826.7 2515.2L838.6 2522.4L850.5 2534.3L857.6 2549.8L854 2554.5L841 2543.8L829 2534.3Z" fill="#8ad1c6"/>
<path d="M824.8 2521.2L827.9 2519.5L830.2 2522.9L827.1 2525.2Z" fill="#2f9189"/>
<path d="M856.4 2504.5L868.3 2502.9L870.7 2505.2L864.8 2510Z" fill="#8ad1c6"/>
<path d="M783.3 2414L791 2415.2L786.2 2420Z" fill="#8ad1c6"/>
<path d="M1029 2392.6L1032.6 2390.2L1035.7 2395Z" fill="#8ad1c6"/>
<path d="M1124.3 2371.2L1130 2366.4L1130 2377.1Z" fill="#8ad1c6"/>
<path d="M775.8 2569.3L825.8 2568.3L1059.5 2570.3L1224.4 2572.3L1334.4 2574.8L1334.4 2579.3L775.8 2579.3Z" fill="#f6edd5"/>
<path d="M775.8 2571.3L825.8 2573.3L894.5 2574.8L894.5 2579.3L775.8 2579.3Z" fill="#e1c684"/>
<path d="M775.8 2573.3L812.1 2574.8L853.3 2575.5L853.3 2579.3L775.8 2579.3Z" fill="#b77928"/>
<path d="M524.2 2170.1L536.9 2149.3L550.3 2161.6L564.1 2131.9L578.1 2158.4L592.1 2127.6L605.8 2161.6L619.6 2126.5L633.3 2161.6L647 2125.9L660.7 2161.6L674.5 2125.9L688.2 2161.6L701.9 2126.5L715.7 2161.6L729.4 2128.2L743.1 2163.7L756.8 2134L767.3 2140.3L775.8 2163.7L777.5 2193.4L771.5 2218.9L756.7 2235.9L743.1 2222.1L729.4 2246.5L715.7 2222.1L701.9 2246.5L688.2 2222.1L674.5 2246.5L660.7 2222.1L647 2246.5L633.3 2222.1L619.6 2246.5L605.8 2222.1L592.1 2246.5L578.1 2227.4L564.1 2248.6L550.7 2235.9L533.7 2248.6L524.2 2227.4Z" fill="#8ad1c6"/>
<path d="M592.1 2145.7L605.5 2176.4L605.5 2210.4L592.1 2238L578.7 2210.4L578.7 2176.4Z" fill="#2f9189"/>
<path d="M592.1 2156.9L602.1 2181.8L602.1 2208.3L592.1 2230.6L582.1 2208.3L582.1 2181.8Z" fill="#08594a"/>
<path d="M592.1 2164.8L598.5 2184.9L598.5 2206.2L592.1 2224.2L585.7 2206.2L585.7 2184.9Z" fill="#003c30"/>
<path d="M619.6 2145.7L632.7 2176.4L632.7 2210.4L619.6 2238L606.4 2210.4L606.4 2176.4Z" fill="#2f9189"/>
<path d="M619.6 2156.9L629.1 2181.8L629.1 2208.3L619.6 2230.6L610 2208.3L610 2181.8Z" fill="#08594a"/>
<path d="M619.6 2164.8L625.5 2184.9L625.5 2206.2L619.6 2224.2L613.6 2206.2L613.6 2184.9Z" fill="#003c30"/>
<path d="M647 2145.7L659.8 2176.4L659.8 2210.4L647 2238L634.3 2210.4L634.3 2176.4Z" fill="#2f9189"/>
<path d="M647 2156.9L656.2 2181.8L656.2 2208.3L647 2230.6L637.9 2208.3L637.9 2181.8Z" fill="#08594a"/>
<path d="M647 2164.8L652.5 2184.9L652.5 2206.2L647 2224.2L641.5 2206.2L641.5 2184.9Z" fill="#003c30"/>
<path d="M674.5 2145.7L686.4 2176.4L686.4 2210.4L674.5 2238L662.6 2210.4L662.6 2176.4Z" fill="#2f9189"/>
<path d="M674.5 2156.9L682.8 2181.8L682.8 2208.3L674.5 2230.6L666.2 2208.3L666.2 2181.8Z" fill="#08594a"/>
<path d="M674.5 2164.8L679.1 2184.9L679.1 2206.2L674.5 2224.2L669.8 2206.2L669.8 2184.9Z" fill="#003c30"/>
<path d="M701.9 2145.7L713 2176.4L713 2210.4L701.9 2238L690.9 2210.4L690.9 2176.4Z" fill="#2f9189"/>
<path d="M701.9 2156.9L709.4 2181.8L709.4 2208.3L701.9 2230.6L694.5 2208.3L694.5 2181.8Z" fill="#08594a"/>
<path d="M701.9 2164.8L705.8 2184.9L705.8 2206.2L701.9 2224.2L698.1 2206.2L698.1 2184.9Z" fill="#003c30"/>
<path d="M729.4 2145.7L740 2176.4L740 2210.4L729.4 2238L718.8 2210.4L718.8 2176.4Z" fill="#2f9189"/>
<path d="M729.4 2156.9L736.4 2181.8L736.4 2208.3L729.4 2230.6L722.4 2208.3L722.4 2181.8Z" fill="#08594a"/>
<path d="M729.4 2164.8L732.8 2184.9L732.8 2206.2L729.4 2224.2L726 2206.2L726 2184.9Z" fill="#003c30"/>
<path d="M756.8 2152L767.5 2170.1L768.5 2201.9L763.2 2225.3L756.8 2232.7L748.4 2218.9L745.8 2193.4L748.4 2168Z" fill="#2f9189"/>
<path d="M756.8 2163.7L762.8 2180.7L762.8 2206.2L756.8 2223.2L750.9 2206.2L750.5 2180.7Z" fill="#08594a"/>
<path d="M756.8 2173.3L759.4 2189.2L759 2208.3L756.8 2216.8L754.3 2206.2L754.1 2187.1Z" fill="#003c30"/>
<path d="M564.1 2149.9L576.2 2189.2L564.1 2218.9L552.8 2189.2Z" fill="#2f9189"/>
<path d="M564.1 2160.5L573 2189.2L564.1 2214.7L554.9 2189.2Z" fill="#08594a"/>
<path d="M536.9 2163.7L548.6 2189.2L538 2210.4L526.3 2189.2Z" fill="#2f9189"/>
<path d="M498.7 2227.4L501.9 2210.4L512.5 2196.6L525.2 2191.3L605.9 2191.3L609.1 2210.4L605.9 2227.4L599.5 2235.9L580.4 2241.2L571.9 2246.5L563.4 2255L550.7 2257.1L544.3 2261.4L533.7 2269.9L523.1 2267.8L512.5 2280.5L507.2 2276.3L499.7 2261.4Z" fill="#8ad1c6" stroke="#8ad1c6" stroke-width="11" stroke-linejoin="round"/>
<path d="M498.7 2227.4L501.9 2210.4L512.5 2196.6L525.2 2191.3L605.9 2191.3L609.1 2210.4L605.9 2227.4L599.5 2235.9L580.4 2241.2L571.9 2246.5L563.4 2255L550.7 2257.1L544.3 2261.4L533.7 2269.9L523.1 2267.8L512.5 2280.5L507.2 2276.3L499.7 2261.4Z" fill="#2f9189" stroke="#2f9189" stroke-width="7.5" stroke-linejoin="round"/>
<path d="M498.7 2227.4L501.9 2210.4L512.5 2196.6L525.2 2191.3L605.9 2191.3L609.1 2210.4L605.9 2227.4L599.5 2235.9L580.4 2241.2L571.9 2246.5L563.4 2255L550.7 2257.1L544.3 2261.4L533.7 2269.9L523.1 2267.8L512.5 2280.5L507.2 2276.3L499.7 2261.4Z" fill="#08594a" stroke="#08594a" stroke-width="4" stroke-linejoin="round"/>
<path d="M498.7 2227.4L501.9 2210.4L512.5 2196.6L525.2 2191.3L605.9 2191.3L609.1 2210.4L605.9 2227.4L599.5 2235.9L580.4 2241.2L571.9 2246.5L563.4 2255L550.7 2257.1L544.3 2261.4L533.7 2269.9L523.1 2267.8L512.5 2280.5L507.2 2276.3L499.7 2261.4Z" fill="#003c30"/>
<path d="M509.3 2147.8L514.6 2163.7L512.5 2191.3L506.1 2193.4L502.9 2163.7Z" fill="#e1c684"/>
<path d="M509.3 2163.7L511.4 2170.1L509.3 2189.2L507.2 2170.1Z" fill="#b77928"/>
<path d="M480.6 2225.3L483.8 2233.8L483.2 2248.6L480.6 2257.1L478.1 2248.6L477.6 2233.8Z" fill="#8ad1c6"/>
<path d="M500 2345L771 2345L778 2400L771 2577L560 2577L540 2560L500 2560Z" fill="#f6edd5"/>
<path d="M597.4 2248.6L605.9 2246.5L618.6 2241.2L633.5 2248.6L647.3 2242.3L661.1 2249.7L674.9 2244.4L688.7 2249.7L702.5 2245.5L716.3 2249.7L730.1 2246.5L743.9 2248.6L766.7 2246.5L780 2248.6L786.4 2238L786.4 2349.9L500.4 2349.9L493.4 2333.6L491.2 2291.1L497.6 2278.4L512.5 2284.7L525.2 2272L540.1 2280.5L554.9 2267.8L569.8 2272L584.7 2257.1Z" fill="#f6edd5"/>
<path d="M491.3 2294.3L508.8 2299.4L523.2 2276.8L536.6 2289.1L550 2267.5L564.4 2280.9L576.8 2262.4L589.1 2267.5L603.6 2259.3L620 2262.4L632.4 2256.2L644.7 2260.3L659.2 2255.1L673.6 2260.3L685.9 2256.2L700.3 2260.3L714.7 2256.6L727.1 2259.9L741.5 2257.2L755.9 2258.2L766.2 2262.4L778.6 2270.6L784.8 2276.8L800 2270.6L800 2293.2L784.8 2287.1L776.5 2297.4L768.3 2318L766.2 2346.8L758 2371.5L747.7 2357.1L735.3 2373.6L725 2359.1L712.7 2373.6L702.4 2377.7L688 2375.6L673.6 2373.6L659.2 2371.5L646.8 2365.3L640.6 2362.2L624.1 2365.3L611.8 2361.2L603.6 2371.5L591.2 2365.3L578.8 2375.6L566.5 2373.6L562.4 2381.8L548 2383.8L535.6 2385.9L523.2 2371.5L512.9 2383.8L506.8 2377.7L491.3 2383.8Z" fill="#e1c684"/>
<path d="M603.6 2346.8L622.1 2340.6L636.5 2332.4L648.9 2342.7L661.2 2332.4L674.6 2321L688 2331.3L701.4 2342.7L714.7 2332.4L729.2 2342.7L741.5 2331.3L755.9 2340.6L761.1 2346.8L751.8 2357.1L739.5 2370.5L727.1 2357.1L714.7 2370.5L701.4 2356L688 2371.5L674.6 2357.1L661.2 2370.5L650.9 2355L640.6 2361.2L624.1 2360.2L611.8 2365.3L603.6 2357.1Z" fill="#f6edd5"/>
<path d="M674.6 2344.7L682.8 2356L674.6 2368.4L666.4 2356Z" fill="#e1c684"/>
<path d="M701.4 2344.7L709.6 2356L701.4 2368.4L693.1 2356Z" fill="#e1c684"/>
<path d="M728.1 2344.7L736.4 2356L728.1 2368.4L719.9 2356Z" fill="#e1c684"/>
<path d="M753.9 2344.7L762.1 2356L753.9 2368.4L745.6 2356Z" fill="#e1c684"/>
<path d="M674.6 2361.2L676.2 2363.3L674.6 2365.3L672.9 2363.3Z" fill="#b77928"/>
<path d="M701.4 2361.2L703 2363.3L701.4 2365.3L699.7 2363.3Z" fill="#b77928"/>
<path d="M491.3 2296.3L509.9 2297.8L523.2 2279.2L536.6 2292.2L550 2269.6L563.4 2288.1L576.8 2266.9L590.2 2286L603.6 2262.4L632.4 2261.3L644.7 2262.4L685.9 2263.4L690 2266.5L701.4 2280.9L714.7 2270.6L727.1 2277.8L741.5 2273.7L755.9 2274.7L762.1 2278.8L763.1 2311.8L762.1 2328.2L755.9 2338.5L741.5 2329.3L729.2 2340.6L714.7 2330.3L701.4 2340.6L688 2329.3L674.6 2319L661.2 2330.3L648.9 2340.6L634.4 2329.3L622.1 2338.5L611.8 2332.4L603.6 2340.6L587.1 2348.8L585 2365.3L578.8 2373.6L562.4 2357.1L558.2 2365.3L552.1 2373.6L541.8 2383.8L535.6 2384.9L523.2 2370.5L512.9 2382.8L506.8 2376.6L491.3 2382.8Z" fill="#b77928"/>
<path d="M685.9 2294.3L695.2 2296.3L692.1 2311.8L688 2313.8L681.8 2310.7Z" fill="#e1c684"/>
<path d="M709.6 2294.3L715.8 2292.2L720.9 2296.3L719.9 2311.8L714.7 2315.9L710.6 2311.8Z" fill="#e1c684"/>
<path d="M737.4 2294.3L742.5 2289.1L747.7 2294.3L747.7 2309.7L742.5 2315.9L737.4 2309.7Z" fill="#e1c684"/>
<path d="M674.6 2331.3L677.3 2337.5L674.6 2342.7L671.9 2337.5Z" fill="#b77928"/>
<path d="M491.3 2299.4L509.9 2294.3L523.2 2280.9L530.5 2291.2L536.6 2294.3L550 2273.7L563.4 2291.2L576.8 2271.6L590.2 2290.2L603.6 2273.7L618 2291.2L632.4 2273.7L639.6 2280.9L640.2 2297.4L635.5 2307.7L624.1 2313.8L613.8 2319L607.7 2326.2L595.3 2332.4L583 2338.5L568.5 2348.8L558.2 2350.9L551 2348.8L548 2357.1L550 2367.4L541.8 2381.8L535.6 2383.8L523.2 2369.4L512.9 2381.8L506.8 2375.6L491.3 2381.8Z" fill="#754308"/>
<path d="M660.8 2278.4L663.7 2281.9L660.8 2285.4L657.9 2281.9Z" fill="#754308"/>
<path d="M491.3 2311.8L506.8 2307.7L523.2 2295.3L533.5 2303.5L550 2291.2L562.4 2301.5L576.8 2294.3L591.2 2304.6L603.6 2305.6L607.7 2309.7L601.5 2318L591.2 2326.2L578.8 2332.4L566.5 2342.7L550 2346.8L543.8 2353L545.9 2365.3L539.7 2375.6L531.5 2377.7L523.2 2366.3L515 2373.6L502.7 2371.5L491.3 2365.3Z" fill="#543005"/>
<path d="M550 2349.9L554.5 2351.9L552.1 2356L549 2354Z" fill="#f6edd5"/>
<path d="M492.4 2301.5L486.2 2336.5L491.3 2357.1L484.1 2375.6L492.4 2394.1L492.4 2301.5Z" fill="#e1c684"/>
<path d="M523.4 2400L532.4 2440L530.6 2475L523.4 2492L516.2 2475L514.4 2440Z" fill="#d9eeeb"/>
<path d="M550.9 2400L559.9 2440L558.1 2475L550.9 2492L543.7 2475L541.9 2440Z" fill="#d9eeeb"/>
<path d="M578.4 2400L587.4 2440L585.6 2475L578.4 2492L571.2 2475L569.4 2440Z" fill="#d9eeeb"/>
<path d="M605.9 2400L614.9 2440L613.1 2475L605.9 2492L598.7 2475L596.9 2440Z" fill="#d9eeeb"/>
<path d="M633.4 2400L642.4 2440L640.6 2475L633.4 2492L626.2 2475L624.4 2440Z" fill="#d9eeeb"/>
<path d="M660.9 2400L669.9 2440L668.1 2475L660.9 2492L653.7 2475L651.9 2440Z" fill="#d9eeeb"/>
<path d="M688.4 2400L700.4 2440L698 2475L688.4 2492L678.8 2475L676.4 2440Z" fill="#d9eeeb"/>
<path d="M715.9 2400L727.9 2440L725.5 2475L715.9 2492L706.3 2475L703.9 2440Z" fill="#d9eeeb"/>
<path d="M743.3 2400L755.3 2440L752.9 2475L743.3 2492L733.7 2475L731.3 2440Z" fill="#d9eeeb"/>
<path d="M618.6 2448.9L631.4 2423.4L646.3 2448.9L661.1 2414.9L673.9 2448.9L688.7 2414.9L701.5 2440.4L716.3 2414.9L729.1 2436.2L743.9 2419.2L765.2 2440.4L765.2 2491.4L618.6 2491.4Z" fill="#d9eeeb"/>
<path d="M619.6 2455L627.6 2480L619.6 2500L611.6 2480Z" fill="#f6edd5"/>
<path d="M647.1 2455L655.1 2480L647.1 2500L639.1 2480Z" fill="#f6edd5"/>
<path d="M674.6 2455L682.6 2480L674.6 2500L666.6 2480Z" fill="#f6edd5"/>
<path d="M702.1 2455L710.1 2480L702.1 2500L694.1 2480Z" fill="#f6edd5"/>
<path d="M729.6 2455L737.6 2480L729.6 2500L721.6 2480Z" fill="#f6edd5"/>
<path d="M757.1 2455L765.1 2480L757.1 2500L749.1 2480Z" fill="#f6edd5"/>
<path d="M564.7 2376.1L578.7 2398.5L571.7 2408.1L557.7 2408.1L550.7 2398.5Z" fill="#e1c684"/>
<path d="M592.2 2379.4L604.2 2397.6L598.2 2405.4L586.2 2405.4L580.2 2397.6Z" fill="#e1c684"/>
<path d="M619.6 2380.5L629.6 2397.3L624.6 2404.5L614.6 2404.5L609.6 2397.3Z" fill="#e1c684"/>
<path d="M647.1 2384.9L655.1 2396.1L651.1 2400.9L643.1 2400.9L639.1 2396.1Z" fill="#e1c684"/>
<path d="M674.6 2388.8L679.6 2395.1L677.1 2397.8L672.1 2397.8L669.6 2395.1Z" fill="#e1c684"/>
<path d="M702.1 2391L705.1 2394.5L703.6 2396L700.6 2396L699.1 2394.5Z" fill="#e1c684"/>
<path d="M729.6 2392.1L731.6 2394.2L730.6 2395.1L728.6 2395.1L727.6 2394.2Z" fill="#e1c684"/>
<path d="M578.4 2378.3L584.4 2387.3L578.4 2396.3L572.4 2387.3Z" fill="#d9eeeb"/>
<path d="M605.9 2378.3L611.9 2387.3L605.9 2396.3L599.9 2387.3Z" fill="#d9eeeb"/>
<path d="M633.4 2378.3L639.4 2387.3L633.4 2396.3L627.4 2387.3Z" fill="#d9eeeb"/>
<path d="M660.9 2378.3L666.9 2387.3L660.9 2396.3L654.9 2387.3Z" fill="#d9eeeb"/>
<path d="M688.4 2378.3L694.4 2387.3L688.4 2396.3L682.4 2387.3Z" fill="#d9eeeb"/>
<path d="M715.9 2378.3L721.9 2387.3L715.9 2396.3L709.9 2387.3Z" fill="#d9eeeb"/>
<path d="M743.3 2378.3L749.3 2387.3L743.3 2396.3L737.3 2387.3Z" fill="#d9eeeb"/>
<path d="M578.4 2381.3L581.4 2386.3L578.4 2391.3L575.4 2386.3Z" fill="#8ad1c6"/>
<path d="M550.9 2491.1L556.9 2495.6L550.9 2500.1L544.9 2495.6Z" fill="#8ad1c6"/>
<path d="M550.9 2493.4L553.9 2495.6L550.9 2497.8L547.9 2495.6Z" fill="#2f9189"/>
<path d="M550.9 2501.5L554.4 2510.5L550.9 2519.5L547.4 2510.5Z" fill="#8ad1c6"/>
<path d="M550.9 2520.3L553.9 2524.3L550.9 2528.3L547.9 2524.3Z" fill="#8ad1c6"/>
<path d="M550.9 2481.1L554.9 2486.1L550.9 2491.1L546.9 2486.1Z" fill="#8ad1c6"/>
<path d="M564.7 2491.6L569.7 2495.6L564.7 2499.6L559.7 2495.6Z" fill="#e1c684"/>
<path d="M564.7 2493.6L567.2 2495.6L564.7 2497.6L562.2 2495.6Z" fill="#b77928"/>
<path d="M564.7 2497.5L575.7 2513.5L570.7 2522.5L558.7 2522.5L553.7 2513.5Z" fill="#e1c684"/>
<path d="M564.7 2501.5L572.2 2513.5L568.7 2519.5L560.7 2519.5L557.2 2513.5Z" fill="#b77928"/>
<path d="M564.7 2505.5L568.7 2513.5L564.7 2517.5L560.7 2513.5Z" fill="#754308"/>
<path d="M564.7 2521.8L567.7 2524.3L564.7 2526.8L561.7 2524.3Z" fill="#e1c684"/>
<path d="M578.4 2491.1L584.4 2495.6L578.4 2500.1L572.4 2495.6Z" fill="#8ad1c6"/>
<path d="M578.4 2493.4L581.4 2495.6L578.4 2497.8L575.4 2495.6Z" fill="#2f9189"/>
<path d="M578.4 2501.5L581.9 2510.5L578.4 2519.5L574.9 2510.5Z" fill="#8ad1c6"/>
<path d="M578.4 2520.3L581.4 2524.3L578.4 2528.3L575.4 2524.3Z" fill="#8ad1c6"/>
<path d="M578.4 2481.1L582.4 2486.1L578.4 2491.1L574.4 2486.1Z" fill="#8ad1c6"/>
<path d="M592.2 2491.6L597.2 2495.6L592.2 2499.6L587.2 2495.6Z" fill="#e1c684"/>
<path d="M592.2 2493.6L594.7 2495.6L592.2 2497.6L589.7 2495.6Z" fill="#b77928"/>
<path d="M592.2 2497.5L603.2 2513.5L598.2 2522.5L586.2 2522.5L581.2 2513.5Z" fill="#e1c684"/>
<path d="M592.2 2501.5L599.7 2513.5L596.2 2519.5L588.2 2519.5L584.7 2513.5Z" fill="#b77928"/>
<path d="M592.2 2505.5L596.2 2513.5L592.2 2517.5L588.2 2513.5Z" fill="#754308"/>
<path d="M592.2 2521.8L595.2 2524.3L592.2 2526.8L589.2 2524.3Z" fill="#e1c684"/>
<path d="M605.9 2491.1L611.9 2495.6L605.9 2500.1L599.9 2495.6Z" fill="#8ad1c6"/>
<path d="M605.9 2493.4L608.9 2495.6L605.9 2497.8L602.9 2495.6Z" fill="#2f9189"/>
<path d="M605.9 2501.5L609.4 2510.5L605.9 2519.5L602.4 2510.5Z" fill="#8ad1c6"/>
<path d="M605.9 2520.3L608.9 2524.3L605.9 2528.3L602.9 2524.3Z" fill="#8ad1c6"/>
<path d="M605.9 2481.1L609.9 2486.1L605.9 2491.1L601.9 2486.1Z" fill="#8ad1c6"/>
<path d="M619.6 2491.6L624.6 2495.6L619.6 2499.6L614.6 2495.6Z" fill="#e1c684"/>
<path d="M619.6 2493.6L622.1 2495.6L619.6 2497.6L617.1 2495.6Z" fill="#b77928"/>
<path d="M619.6 2497.5L630.6 2513.5L625.6 2522.5L613.6 2522.5L608.6 2513.5Z" fill="#e1c684"/>
<path d="M619.6 2501.5L627.1 2513.5L623.6 2519.5L615.6 2519.5L612.1 2513.5Z" fill="#b77928"/>
<path d="M619.6 2505.5L623.6 2513.5L619.6 2517.5L615.6 2513.5Z" fill="#754308"/>
<path d="M619.6 2521.8L622.6 2524.3L619.6 2526.8L616.6 2524.3Z" fill="#e1c684"/>
<path d="M633.4 2491.1L639.4 2495.6L633.4 2500.1L627.4 2495.6Z" fill="#8ad1c6"/>
<path d="M633.4 2493.4L636.4 2495.6L633.4 2497.8L630.4 2495.6Z" fill="#2f9189"/>
<path d="M633.4 2501.5L636.9 2510.5L633.4 2519.5L629.9 2510.5Z" fill="#8ad1c6"/>
<path d="M633.4 2520.3L636.4 2524.3L633.4 2528.3L630.4 2524.3Z" fill="#8ad1c6"/>
<path d="M633.4 2481.1L637.4 2486.1L633.4 2491.1L629.4 2486.1Z" fill="#8ad1c6"/>
<path d="M647.1 2491.6L652.1 2495.6L647.1 2499.6L642.1 2495.6Z" fill="#e1c684"/>
<path d="M647.1 2493.6L649.6 2495.6L647.1 2497.6L644.6 2495.6Z" fill="#b77928"/>
<path d="M647.1 2497.5L658.1 2513.5L653.1 2522.5L641.1 2522.5L636.1 2513.5Z" fill="#e1c684"/>
<path d="M647.1 2501.5L654.6 2513.5L651.1 2519.5L643.1 2519.5L639.6 2513.5Z" fill="#b77928"/>
<path d="M647.1 2505.5L651.1 2513.5L647.1 2517.5L643.1 2513.5Z" fill="#754308"/>
<path d="M647.1 2521.8L650.1 2524.3L647.1 2526.8L644.1 2524.3Z" fill="#e1c684"/>
<path d="M660.9 2491.1L666.9 2495.6L660.9 2500.1L654.9 2495.6Z" fill="#8ad1c6"/>
<path d="M660.9 2493.4L663.9 2495.6L660.9 2497.8L657.9 2495.6Z" fill="#2f9189"/>
<path d="M660.9 2501.5L664.4 2510.5L660.9 2519.5L657.4 2510.5Z" fill="#8ad1c6"/>
<path d="M660.9 2520.3L663.9 2524.3L660.9 2528.3L657.9 2524.3Z" fill="#8ad1c6"/>
<path d="M660.9 2481.1L664.9 2486.1L660.9 2491.1L656.9 2486.1Z" fill="#8ad1c6"/>
<path d="M674.6 2491.6L679.6 2495.6L674.6 2499.6L669.6 2495.6Z" fill="#e1c684"/>
<path d="M674.6 2493.6L677.1 2495.6L674.6 2497.6L672.1 2495.6Z" fill="#b77928"/>
<path d="M674.6 2497.5L685.6 2513.5L680.6 2522.5L668.6 2522.5L663.6 2513.5Z" fill="#e1c684"/>
<path d="M674.6 2501.5L682.1 2513.5L678.6 2519.5L670.6 2519.5L667.1 2513.5Z" fill="#b77928"/>
<path d="M674.6 2505.5L678.6 2513.5L674.6 2517.5L670.6 2513.5Z" fill="#754308"/>
<path d="M674.6 2521.8L677.6 2524.3L674.6 2526.8L671.6 2524.3Z" fill="#e1c684"/>
<path d="M688.4 2491.1L694.4 2495.6L688.4 2500.1L682.4 2495.6Z" fill="#8ad1c6"/>
<path d="M688.4 2493.4L691.4 2495.6L688.4 2497.8L685.4 2495.6Z" fill="#2f9189"/>
<path d="M688.4 2501.5L691.9 2510.5L688.4 2519.5L684.9 2510.5Z" fill="#8ad1c6"/>
<path d="M688.4 2520.3L691.4 2524.3L688.4 2528.3L685.4 2524.3Z" fill="#8ad1c6"/>
<path d="M688.4 2481.1L692.4 2486.1L688.4 2491.1L684.4 2486.1Z" fill="#8ad1c6"/>
<path d="M702.1 2491.6L707.1 2495.6L702.1 2499.6L697.1 2495.6Z" fill="#e1c684"/>
<path d="M702.1 2493.6L704.6 2495.6L702.1 2497.6L699.6 2495.6Z" fill="#b77928"/>
<path d="M702.1 2497.5L713.1 2513.5L708.1 2522.5L696.1 2522.5L691.1 2513.5Z" fill="#e1c684"/>
<path d="M702.1 2501.5L709.6 2513.5L706.1 2519.5L698.1 2519.5L694.6 2513.5Z" fill="#b77928"/>
<path d="M702.1 2505.5L706.1 2513.5L702.1 2517.5L698.1 2513.5Z" fill="#754308"/>
<path d="M702.1 2521.8L705.1 2524.3L702.1 2526.8L699.1 2524.3Z" fill="#e1c684"/>
<path d="M715.9 2491.1L721.9 2495.6L715.9 2500.1L709.9 2495.6Z" fill="#8ad1c6"/>
<path d="M715.9 2493.4L718.9 2495.6L715.9 2497.8L712.9 2495.6Z" fill="#2f9189"/>
<path d="M715.9 2501.5L719.4 2510.5L715.9 2519.5L712.4 2510.5Z" fill="#8ad1c6"/>
<path d="M715.9 2520.3L718.9 2524.3L715.9 2528.3L712.9 2524.3Z" fill="#8ad1c6"/>
<path d="M715.9 2481.1L719.9 2486.1L715.9 2491.1L711.9 2486.1Z" fill="#8ad1c6"/>
<path d="M729.6 2491.6L734.6 2495.6L729.6 2499.6L724.6 2495.6Z" fill="#e1c684"/>
<path d="M729.6 2493.6L732.1 2495.6L729.6 2497.6L727.1 2495.6Z" fill="#b77928"/>
<path d="M729.6 2497.5L740.6 2513.5L735.6 2522.5L723.6 2522.5L718.6 2513.5Z" fill="#e1c684"/>
<path d="M729.6 2501.5L737.1 2513.5L733.6 2519.5L725.6 2519.5L722.1 2513.5Z" fill="#b77928"/>
<path d="M729.6 2505.5L733.6 2513.5L729.6 2517.5L725.6 2513.5Z" fill="#754308"/>
<path d="M729.6 2521.8L732.6 2524.3L729.6 2526.8L726.6 2524.3Z" fill="#e1c684"/>
<path d="M743.3 2491.1L749.3 2495.6L743.3 2500.1L737.3 2495.6Z" fill="#8ad1c6"/>
<path d="M743.3 2493.4L746.3 2495.6L743.3 2497.8L740.3 2495.6Z" fill="#2f9189"/>
<path d="M743.3 2501.5L746.8 2510.5L743.3 2519.5L739.8 2510.5Z" fill="#8ad1c6"/>
<path d="M743.3 2520.3L746.3 2524.3L743.3 2528.3L740.3 2524.3Z" fill="#8ad1c6"/>
<path d="M743.3 2481.1L747.3 2486.1L743.3 2491.1L739.3 2486.1Z" fill="#8ad1c6"/>
<path d="M550.9 2544.3L555.4 2555.3L550.9 2566.3L546.4 2555.3Z" fill="#8ad1c6"/>
<path d="M550.9 2550.3L552.9 2555.3L550.9 2560.3L548.9 2555.3Z" fill="#2f9189"/>
<path d="M564.7 2535.3L574.7 2563.3L577.7 2577.3L551.7 2577.3L554.7 2563.3Z" fill="#e1c684"/>
<path d="M564.7 2543.3L570.7 2565.3L572.7 2577.3L556.7 2577.3L558.7 2565.3Z" fill="#b77928"/>
<path d="M578.4 2544.3L582.9 2555.3L578.4 2566.3L573.9 2555.3Z" fill="#8ad1c6"/>
<path d="M578.4 2550.3L580.4 2555.3L578.4 2560.3L576.4 2555.3Z" fill="#2f9189"/>
<path d="M592.2 2535.3L602.2 2563.3L605.2 2577.3L579.2 2577.3L582.2 2563.3Z" fill="#e1c684"/>
<path d="M592.2 2543.3L598.2 2565.3L600.2 2577.3L584.2 2577.3L586.2 2565.3Z" fill="#b77928"/>
<path d="M605.9 2544.3L610.4 2555.3L605.9 2566.3L601.4 2555.3Z" fill="#8ad1c6"/>
<path d="M605.9 2550.3L607.9 2555.3L605.9 2560.3L603.9 2555.3Z" fill="#2f9189"/>
<path d="M619.6 2535.3L629.6 2563.3L632.6 2577.3L606.6 2577.3L609.6 2563.3Z" fill="#e1c684"/>
<path d="M619.6 2543.3L625.6 2565.3L627.6 2577.3L611.6 2577.3L613.6 2565.3Z" fill="#b77928"/>
<path d="M633.4 2544.3L637.9 2555.3L633.4 2566.3L628.9 2555.3Z" fill="#8ad1c6"/>
<path d="M633.4 2550.3L635.4 2555.3L633.4 2560.3L631.4 2555.3Z" fill="#2f9189"/>
<path d="M647.1 2535.3L657.1 2563.3L660.1 2577.3L634.1 2577.3L637.1 2563.3Z" fill="#e1c684"/>
<path d="M647.1 2543.3L653.1 2565.3L655.1 2577.3L639.1 2577.3L641.1 2565.3Z" fill="#b77928"/>
<path d="M660.9 2544.3L665.4 2555.3L660.9 2566.3L656.4 2555.3Z" fill="#8ad1c6"/>
<path d="M660.9 2550.3L662.9 2555.3L660.9 2560.3L658.9 2555.3Z" fill="#2f9189"/>
<path d="M674.6 2535.3L684.6 2563.3L687.6 2577.3L661.6 2577.3L664.6 2563.3Z" fill="#e1c684"/>
<path d="M674.6 2543.3L680.6 2565.3L682.6 2577.3L666.6 2577.3L668.6 2565.3Z" fill="#b77928"/>
<path d="M674.6 2563.3L686.6 2577.3L662.6 2577.3Z" fill="#754308"/>
<path d="M688.4 2544.3L692.9 2555.3L688.4 2566.3L683.9 2555.3Z" fill="#8ad1c6"/>
<path d="M688.4 2550.3L690.4 2555.3L688.4 2560.3L686.4 2555.3Z" fill="#2f9189"/>
<path d="M702.1 2535.3L712.1 2563.3L715.1 2577.3L689.1 2577.3L692.1 2563.3Z" fill="#e1c684"/>
<path d="M702.1 2543.3L708.1 2565.3L710.1 2577.3L694.1 2577.3L696.1 2565.3Z" fill="#b77928"/>
<path d="M702.1 2563.3L714.1 2577.3L690.1 2577.3Z" fill="#754308"/>
<path d="M715.9 2544.3L720.4 2555.3L715.9 2566.3L711.4 2555.3Z" fill="#8ad1c6"/>
<path d="M715.9 2550.3L717.9 2555.3L715.9 2560.3L713.9 2555.3Z" fill="#2f9189"/>
<path d="M729.6 2535.3L739.6 2563.3L742.6 2577.3L716.6 2577.3L719.6 2563.3Z" fill="#e1c684"/>
<path d="M729.6 2543.3L735.6 2565.3L737.6 2577.3L721.6 2577.3L723.6 2565.3Z" fill="#b77928"/>
<path d="M729.6 2563.3L741.6 2577.3L717.6 2577.3Z" fill="#754308"/>
<path d="M743.3 2544.3L747.8 2555.3L743.3 2566.3L738.8 2555.3Z" fill="#8ad1c6"/>
<path d="M743.3 2550.3L745.3 2555.3L743.3 2560.3L741.3 2555.3Z" fill="#2f9189"/>
<path d="M757.1 2535.3L767.1 2563.3L770.1 2577.3L744.1 2577.3L747.1 2563.3Z" fill="#e1c684"/>
<path d="M757.1 2543.3L763.1 2565.3L765.1 2577.3L749.1 2577.3L751.1 2565.3Z" fill="#b77928"/>
<path d="M757.1 2563.3L769.1 2577.3L745.1 2577.3Z" fill="#754308"/>
<ellipse cx="510.5" cy="2537.5" rx="13" ry="37.5" fill="#e1c684"/>
<ellipse cx="510.5" cy="2537.5" rx="10.7" ry="34.5" fill="#b77928"/>
<ellipse cx="510.5" cy="2537.5" rx="8.3" ry="31.4" fill="#754308"/>
<ellipse cx="510.5" cy="2537.5" rx="6" ry="28.4" fill="#543005"/>
<ellipse cx="537" cy="2535.5" rx="13" ry="37.5" fill="#e1c684"/>
<ellipse cx="537" cy="2535.5" rx="10.7" ry="34.5" fill="#b77928"/>
<ellipse cx="537" cy="2535.5" rx="8.3" ry="31.4" fill="#754308"/>
<ellipse cx="537" cy="2535.5" rx="6" ry="28.4" fill="#543005"/>
<ellipse cx="564.5" cy="2552" rx="8" ry="22" fill="#e1c684"/>
<ellipse cx="564.5" cy="2552" rx="5.6" ry="15.4" fill="#b77928"/>
<ellipse cx="564.5" cy="2552" rx="3.2" ry="8.8" fill="#754308"/>
<path d="M482.7 2468L495.5 2465.9L504 2478.6L518.8 2476.5L523.1 2485L512.5 2491.4L504 2504.1L495.5 2499.9L491.2 2482.9Z" fill="#e1c684"/>
<path d="M493.4 2470.2L501.9 2478.6L512.5 2478.6L506.1 2491.4L497.6 2495.6L493.4 2482.9Z" fill="#b77928"/>
<path d="M504 2402.2L512.5 2406.4L515.7 2421.3L510.3 2429.8L504 2423.4Z" fill="#b77928"/>
<path d="M507.2 2408.6L511.4 2412.8L511.4 2423.4L507.2 2421.3Z" fill="#754308"/>
<path d="M517.8 2388.4L524.2 2391.6L526.3 2395.8L521 2398L515.7 2394.8Z" fill="#754308"/>
<path d="M533.7 2408.6L540.1 2406.4L543.3 2413.9L536.9 2419.2L532.6 2414.9Z" fill="#e1c684"/>
<path d="M535.8 2410.7L539.2 2413.2L536.9 2416.6Z" fill="#b77928"/>
<path d="M533.7 2465.9L538 2462.7L541.1 2469.1L537.5 2474.4Z" fill="#e1c684"/>
<path d="M532.6 2391.6L544.3 2384.2L551.8 2386.3L548.6 2400.1L543.3 2396.9L533.7 2395.8Z" fill="#2f9189"/>
<path d="M534.8 2392.6L544.3 2390.5L542.2 2394.8Z" fill="#08594a"/>
<path d="M523.1 2414.9L528.4 2423.4L535.8 2429.8L546.4 2425.6L551.8 2402.2L554.9 2419.2L553.9 2440.4L548.6 2448.9L554.9 2465.9L556 2478.6L550.7 2489.3L544.3 2486.1L548.6 2476.5L544.3 2459.5L535.8 2448.9L531.6 2461.7L524.2 2478.6L517.8 2482.9L510.3 2478.6L518.8 2465.9L524.2 2448.9L530.5 2436.2L524.2 2425.6Z" fill="#8ad1c6"/>
<path d="M530.5 2431.9L538 2429.8L543.3 2436.2L539 2444.7L532.6 2440.4Z" fill="#2f9189"/>
<path d="M534.8 2434.1L539 2435.1L537.5 2439.4Z" fill="#08594a"/>
<path d="M517.8 2455.3L524.2 2451L528.4 2459.5L525.6 2471.2L518.8 2468Z" fill="#2f9189"/>
<path d="M519.9 2457.4L524.2 2457.4L525.6 2465.9L521 2465.9Z" fill="#08594a"/>
<path d="M504 2476.5L512.5 2474.4L523.1 2482.9L528.4 2491.4L523.1 2495.6L515.7 2487.1L508.2 2485Z" fill="#2f9189"/>
<path d="M490.2 2487.1L498.7 2485L502.9 2497.8L501.9 2521.1L498.7 2563.6L493.4 2572.1L489.1 2563.6L488.1 2499.9Z" fill="#8ad1c6"/>
<path d="M492.3 2489.3L497.6 2489.3L499.7 2499.9L496.5 2506.3L492.9 2499.9Z" fill="#08594a"/>
<path d="M492.3 2542.4L496.5 2540.2L497.2 2559.3L493.8 2567.8Z" fill="#2f9189"/>
<path d="M546.4 2476.5L551.8 2472.3L554.9 2482.9L550.7 2490.3Z" fill="#2f9189"/>
<path d="M784.3 2361.9L800 2357.6L800 2368.2L788.5 2367.2Z" fill="#8ad1c6"/>
<path d="M783.9 2414.9L790.7 2412.4L787.5 2420.3Z" fill="#8ad1c6"/>
<path d="M780 2457.4L794.9 2440.4L800 2448.9L800 2465.9L788.5 2468Z" fill="#8ad1c6"/>
<path d="M775.8 2559.3L788.5 2550.8L800 2555.1L800 2563.6L784.3 2563.6Z" fill="#8ad1c6"/>
<path d="M782.2 2558.3L797 2556.2L794.9 2560.4L784.3 2561.5Z" fill="#2f9189"/><path d="M373 1666.7L495 1664.7L549 1665.7L597.5 1667.7L644 1671.7L691 1675.7L718.7 1677.7" fill="none" stroke="#000" stroke-width="9.0" stroke-dasharray="33.4 14.5"/>
<path d="M982.6 1681.3L1126.4 1677.7L1269.5 1674L1467.6 1670.3" fill="none" stroke="#000" stroke-width="9.0" stroke-dasharray="33.4 14.5"/>
<path d="M373 1792.7L495 1789.9L549 1791.1L597.5 1793.1L644 1796.5L691 1801.3L738.9 1804.2" fill="none" stroke="#000" stroke-width="9.0" stroke-dasharray="33.4 14.5"/>
<path d="M1012.7 1809L1203.5 1806L1467.6 1802.4" fill="none" stroke="#000" stroke-width="9.0" stroke-dasharray="33.4 14.5"/>
<path d="M373 1856.4L495 1853.6L549 1855.2L597 1858.7L644 1865.7L691 1877.6L737 1883.7L772 1886.7L827 1888.6L920 1890.1L1086 1887.7L1276.8 1883.1L1453 1879.4" fill="none" stroke="#000" stroke-width="9.0" stroke-dasharray="33.4 14.5"/>
<path d="M373 2184.7L390 2184.5L437.6 2183.4L485 2182.3L532.6 2180.5L581 2176.2L628 2172.4L676 2172L723 2172L767 2172.7L818.5 2174.5L866 2178L913 2180.1L961 2181.3L1009.4 2182.2L1057 2183.8L1105 2185.1L1152 2186.3L1203 2187.7L1248 2188.6L1296 2189.6L1343 2190.6L1391 2191.6L1439 2192.5L1467 2193" fill="none" stroke="#000" stroke-width="9.0" stroke-dasharray="33.4 14.5"/>
<path d="M373 2199.7L390 2199.2L437.6 2196.9L485 2193.5L532.6 2190.6L581 2187.1L628 2187.1L676 2187.1L723 2187.8L767 2189.2L818.5 2191.3L866 2193.5L913 2196.3L961 2198.7L1009 2201.2L1057 2202.2L1105 2203.1L1152 2204.1L1203 2204.8L1248 2205.2L1296 2205.5L1343 2205.8L1391 2206.2L1439 2206.2L1467 2206.2" fill="none" stroke="#000" stroke-width="9.0" stroke-dasharray="33.4 14.5"/>
<path d="M373 2204.2L390 2203.8L437.6 2202.4L485 2199.9L532.6 2197.4L581 2194.3L628 2194.3L676 2195.3L723 2196.8L767 2198.2L818.5 2200.2L866 2201.8L913 2203.9L961 2205.8L1009 2208.1L1057 2209.1L1105 2210.1L1152 2211.1L1203 2212L1248 2212.6L1296 2212.9L1343 2213.2L1391 2213.6L1439 2213.4L1467 2213.4" fill="none" stroke="#000" stroke-width="9.0" stroke-dasharray="33.4 14.5"/>
<path d="M373 2208.7L390 2208.5L437.6 2207.8L485 2206.4L532.6 2204.3L581 2201.5L628 2201.5L676 2203.6L723 2205.7L767 2207.1L818.5 2209.2L866 2210L913 2211.4L961 2212.8L1009 2214.9L1057 2216L1105 2217L1152 2218L1203 2219.2L1248 2219.9L1296 2220.3L1343 2220.6L1391 2220.9L1439 2220.6L1467 2220.6" fill="none" stroke="#000" stroke-width="9.0" stroke-dasharray="33.4 14.5"/>
<path d="M496.2 2534.9L771 2534.9" fill="none" stroke="#ff0000" stroke-width="9.4" stroke-dasharray="33.4 14.5" stroke-linecap="butt"/>
<path d="M496.2 2235.9L771 2235.9" fill="none" stroke="#ff0000" stroke-width="9.4" stroke-dasharray="33.4 14.5" stroke-linecap="butt"/>
<path d="M496.2 2534.9L496.2 2235.9" fill="none" stroke="#ff0000" stroke-width="9.4" stroke-dasharray="33.4 14.5" stroke-linecap="butt"/>
<path d="M771 2534.9L771 2235.9" fill="none" stroke="#ff0000" stroke-width="9.4" stroke-dasharray="33.4 14.5" stroke-linecap="butt"/><text transform="translate(851.3 1705.2) rotate(1.2)" font-size="81.0" text-anchor="middle">290.0</text>
<text transform="translate(880.3 1831.5) rotate(1.2)" font-size="81.0" text-anchor="middle">288.0</text></g>
<rect x="358.5" y="128.5" width="1113.3" height="1113.1" fill="none" stroke="#000" stroke-width="6.9" stroke-linejoin="miter"/>
<line x1="327" y1="1241.6" x2="358.5" y2="1241.6" stroke="#000" stroke-width="6.9"/>
<text x="294.7" y="1272.5" font-size="81.8" text-anchor="end">0</text>
<line x1="327" y1="963.3" x2="358.5" y2="963.3" stroke="#000" stroke-width="6.9"/>
<text x="294.7" y="994.2" font-size="81.8" text-anchor="end">200</text>
<line x1="327" y1="685" x2="358.5" y2="685" stroke="#000" stroke-width="6.9"/>
<text x="294.7" y="715.9" font-size="81.8" text-anchor="end">400</text>
<line x1="327" y1="406.8" x2="358.5" y2="406.8" stroke="#000" stroke-width="6.9"/>
<text x="294.7" y="437.7" font-size="81.8" text-anchor="end">600</text>
<line x1="327" y1="128.5" x2="358.5" y2="128.5" stroke="#000" stroke-width="6.9"/>
<text x="294.7" y="159.4" font-size="81.8" text-anchor="end">800</text>
<line x1="441" y1="1241.6" x2="441" y2="1273.1" stroke="#000" stroke-width="6.9"/>
<line x1="784.6" y1="1241.6" x2="784.6" y2="1273.1" stroke="#000" stroke-width="6.9"/>
<line x1="1128.2" y1="1241.6" x2="1128.2" y2="1273.1" stroke="#000" stroke-width="6.9"/>
<line x1="1471.8" y1="1241.6" x2="1471.8" y2="1273.1" stroke="#000" stroke-width="6.9"/>
<rect x="358.5" y="1464.2" width="1113.3" height="1113.1" fill="none" stroke="#000" stroke-width="6.9" stroke-linejoin="miter"/>
<line x1="327" y1="2577.3" x2="358.5" y2="2577.3" stroke="#000" stroke-width="6.9"/>
<text x="294.7" y="2608.2" font-size="81.8" text-anchor="end">0</text>
<line x1="327" y1="2299" x2="358.5" y2="2299" stroke="#000" stroke-width="6.9"/>
<text x="294.7" y="2329.9" font-size="81.8" text-anchor="end">200</text>
<line x1="327" y1="2020.8" x2="358.5" y2="2020.8" stroke="#000" stroke-width="6.9"/>
<text x="294.7" y="2051.7" font-size="81.8" text-anchor="end">400</text>
<line x1="327" y1="1742.5" x2="358.5" y2="1742.5" stroke="#000" stroke-width="6.9"/>
<text x="294.7" y="1773.4" font-size="81.8" text-anchor="end">600</text>
<line x1="327" y1="1464.2" x2="358.5" y2="1464.2" stroke="#000" stroke-width="6.9"/>
<text x="294.7" y="1495.1" font-size="81.8" text-anchor="end">800</text>
<line x1="441" y1="2577.3" x2="441" y2="2608.8" stroke="#000" stroke-width="6.9"/>
<text x="441" y="2700.8" font-size="81.8" text-anchor="middle">−25</text>
<line x1="784.6" y1="2577.3" x2="784.6" y2="2608.8" stroke="#000" stroke-width="6.9"/>
<text x="784.6" y="2700.8" font-size="81.8" text-anchor="middle">0</text>
<line x1="1128.2" y1="2577.3" x2="1128.2" y2="2608.8" stroke="#000" stroke-width="6.9"/>
<text x="1128.2" y="2700.8" font-size="81.8" text-anchor="middle">25</text>
<line x1="1471.8" y1="2577.3" x2="1471.8" y2="2608.8" stroke="#000" stroke-width="6.9"/>
<text x="1471.8" y="2700.8" font-size="81.8" text-anchor="middle">50</text>
<text class="nk" x="270" y="71.3" font-size="81.0">WSPD<tspan class="it" font-size="56.7" dy="12.8" dx="1.7">MYNN</tspan><tspan dy="-12.8" dx="2"> - WSPD</tspan><tspan font-size="56.7" dy="12.8" dx="5">3</tspan><tspan class="it" font-size="56.7" dx="-6.8">DPBL</tspan><tspan dy="-12.8" dx="2">, 100TKE</tspan></text>
<text class="nk" x="311" y="1408" font-size="81.0">Tend<tspan class="it" font-size="56.7" dy="12.8" dx="1.7">MYNN</tspan><tspan dy="-12.8" dx="2"> - Tend</tspan><tspan font-size="56.7" dy="12.8" dx="5">3</tspan><tspan class="it" font-size="56.7" dx="-6.8">DPBL</tspan><tspan dy="-12.8" dx="2">, 100TKE</tspan></text>
<text transform="translate(85.6 685) rotate(-90)" font-size="90.5" text-anchor="middle">Height [m]</text>
<text transform="translate(85.6 2020.8) rotate(-90)" font-size="90.5" text-anchor="middle">Height [m]</text>
<text x="915.1" y="2822.5" font-size="90.5" text-anchor="middle">x [km]</text>
<text x="1365.6" y="1186" font-size="72" text-anchor="middle">(a)</text>
<text x="1365.6" y="2521.7" font-size="72" text-anchor="middle">(b)</text>
<rect x="1542.6" y="1090" width="32.3" height="101.9" fill="#0d5c28"/>
<rect x="1542.6" y="988.7" width="32.3" height="101.9" fill="#3a924c"/>
<rect x="1542.6" y="887.4" width="32.3" height="101.9" fill="#81c581"/>
<rect x="1542.6" y="786.1" width="32.3" height="101.9" fill="#bfe5b9"/>
<rect x="1542.6" y="684.8" width="32.3" height="101.9" fill="#e8f4e5"/>
<rect x="1542.6" y="583.5" width="32.3" height="101.9" fill="#efe6f0"/>
<rect x="1542.6" y="482.2" width="32.3" height="101.9" fill="#d4bcdb"/>
<rect x="1542.6" y="380.9" width="32.3" height="101.9" fill="#ac89bc"/>
<rect x="1542.6" y="279.6" width="32.3" height="101.9" fill="#874c97"/>
<rect x="1542.6" y="178.3" width="32.3" height="101.9" fill="#591465"/>
<path d="M1542.6 178.9L1558.8 127.9L1574.9 178.9Z" fill="#40004b"/>
<path d="M1542.6 1191.3L1558.8 1242.2L1574.9 1191.3Z" fill="#00441b"/>
<path d="M1542.6 178.6L1558.8 127.9L1574.9 178.6L1574.9 1191.6L1558.8 1242.2L1542.6 1191.6Z" fill="none" stroke="#000" stroke-width="6.9" stroke-linejoin="miter" stroke-miterlimit="10"/>
<line x1="1574.9" y1="178.6" x2="1606.4" y2="178.6" stroke="#000" stroke-width="6.9"/>
<text x="1637.5" y="209.2" font-size="81.8">1.0</text>
<line x1="1574.9" y1="279.9" x2="1606.4" y2="279.9" stroke="#000" stroke-width="6.9"/>
<text x="1637.5" y="310.5" font-size="81.8">0.8</text>
<line x1="1574.9" y1="381.2" x2="1606.4" y2="381.2" stroke="#000" stroke-width="6.9"/>
<text x="1637.5" y="411.8" font-size="81.8">0.6</text>
<line x1="1574.9" y1="482.5" x2="1606.4" y2="482.5" stroke="#000" stroke-width="6.9"/>
<text x="1637.5" y="513.1" font-size="81.8">0.4</text>
<line x1="1574.9" y1="583.8" x2="1606.4" y2="583.8" stroke="#000" stroke-width="6.9"/>
<text x="1637.5" y="614.4" font-size="81.8">0.2</text>
<line x1="1574.9" y1="685.1" x2="1606.4" y2="685.1" stroke="#000" stroke-width="6.9"/>
<text x="1637.5" y="715.7" font-size="81.8">0.0</text>
<line x1="1574.9" y1="786.4" x2="1606.4" y2="786.4" stroke="#000" stroke-width="6.9"/>
<text x="1637.5" y="817" font-size="81.8">−0.2</text>
<line x1="1574.9" y1="887.7" x2="1606.4" y2="887.7" stroke="#000" stroke-width="6.9"/>
<text x="1637.5" y="918.3" font-size="81.8">−0.4</text>
<line x1="1574.9" y1="989" x2="1606.4" y2="989" stroke="#000" stroke-width="6.9"/>
<text x="1637.5" y="1019.6" font-size="81.8">−0.6</text>
<line x1="1574.9" y1="1090.3" x2="1606.4" y2="1090.3" stroke="#000" stroke-width="6.9"/>
<text x="1637.5" y="1120.9" font-size="81.8">−0.8</text>
<line x1="1574.9" y1="1191.6" x2="1606.4" y2="1191.6" stroke="#000" stroke-width="6.9"/>
<text x="1637.5" y="1222.2" font-size="81.8">−1.0</text>
<rect x="1542.6" y="2400.4" width="32.3" height="127.2" fill="#08594a"/>
<rect x="1542.6" y="2273.8" width="32.3" height="127.2" fill="#2f9189"/>
<rect x="1542.6" y="2147.1" width="32.3" height="127.2" fill="#8ad1c6"/>
<rect x="1542.6" y="2020.5" width="32.3" height="127.2" fill="#d9eeeb"/>
<rect x="1542.6" y="1893.9" width="32.3" height="127.2" fill="#f6edd5"/>
<rect x="1542.6" y="1767.3" width="32.3" height="127.2" fill="#e1c684"/>
<rect x="1542.6" y="1640.6" width="32.3" height="127.2" fill="#b77928"/>
<rect x="1542.6" y="1514" width="32.3" height="127.2" fill="#754308"/>
<path d="M1542.6 1514.6L1558.8 1463.6L1574.9 1514.6Z" fill="#543005"/>
<path d="M1542.6 2527L1558.8 2578L1574.9 2527Z" fill="#003c30"/>
<path d="M1542.6 1514.3L1558.8 1463.6L1574.9 1514.3L1574.9 2527.3L1558.8 2578L1542.6 2527.3Z" fill="none" stroke="#000" stroke-width="6.9" stroke-linejoin="miter" stroke-miterlimit="10"/>
<line x1="1574.9" y1="1514.3" x2="1606.4" y2="1514.3" stroke="#000" stroke-width="6.9"/>
<text x="1637.5" y="1544.9" font-size="81.8">40</text>
<line x1="1574.9" y1="1640.9" x2="1606.4" y2="1640.9" stroke="#000" stroke-width="6.9"/>
<text x="1637.5" y="1671.5" font-size="81.8">30</text>
<line x1="1574.9" y1="1767.5" x2="1606.4" y2="1767.5" stroke="#000" stroke-width="6.9"/>
<text x="1637.5" y="1798.1" font-size="81.8">20</text>
<line x1="1574.9" y1="1894.2" x2="1606.4" y2="1894.2" stroke="#000" stroke-width="6.9"/>
<text x="1637.5" y="1924.8" font-size="81.8">10</text>
<line x1="1574.9" y1="2020.8" x2="1606.4" y2="2020.8" stroke="#000" stroke-width="6.9"/>
<text x="1637.5" y="2051.4" font-size="81.8">0</text>
<line x1="1574.9" y1="2147.4" x2="1606.4" y2="2147.4" stroke="#000" stroke-width="6.9"/>
<text x="1637.5" y="2178" font-size="81.8">−10</text>
<line x1="1574.9" y1="2274.1" x2="1606.4" y2="2274.1" stroke="#000" stroke-width="6.9"/>
<text x="1637.5" y="2304.7" font-size="81.8">−20</text>
<line x1="1574.9" y1="2400.7" x2="1606.4" y2="2400.7" stroke="#000" stroke-width="6.9"/>
<text x="1637.5" y="2431.3" font-size="81.8">−30</text>
<line x1="1574.9" y1="2527.3" x2="1606.4" y2="2527.3" stroke="#000" stroke-width="6.9"/>
<text x="1637.5" y="2557.9" font-size="81.8">−40</text>
<text transform="translate(1932.5 680.4) rotate(-90)" class="nk" letter-spacing="-0.35" font-size="81.5" text-anchor="middle">Wake Wind Speed</text>
<text transform="translate(2038.3 686.5) rotate(-90)" class="nk" font-size="81.5" text-anchor="middle">Difference [m s<tspan font-size="57" dy="-31">−1</tspan><tspan dy="31">]</tspan></text>
<text transform="translate(1907 2021) rotate(-90)" class="nk" letter-spacing="-0.27" font-size="81.5" text-anchor="middle">Wake <tspan class="it">u</tspan>-Tendency</text>
<text transform="translate(2014.8 2042) rotate(-90)" class="nk" font-size="81.5" text-anchor="middle">Difference [m s<tspan font-size="57" dy="-31">−1</tspan><tspan dy="31"> h</tspan><tspan font-size="57" dy="-31">−1</tspan><tspan dy="31">]</tspan></text>
<rect x="287.8" y="2914.7" width="1096" height="234.3" rx="15" ry="15" fill="#fff" stroke="#dddddd" stroke-width="9"/>
<line x1="319.4" y1="3033.8" x2="482.4" y2="3033.8" stroke="#ff0000" stroke-width="9.2" stroke-dasharray="33.6 14.5"/>
<text x="547" y="3008.6" font-size="82.3">Rotor</text><text x="547" y="3099.5" font-size="82.3">disk</text>
<line x1="926.2" y1="3034.2" x2="1088.8" y2="3034.2" stroke="#000" stroke-width="13.8" stroke-dasharray="50.4 21.6"/>
 <text x="1153" y="3061.8" font-size="82.3"><tspan class="it">θ</tspan> [K]</text>
</svg></body></html>
